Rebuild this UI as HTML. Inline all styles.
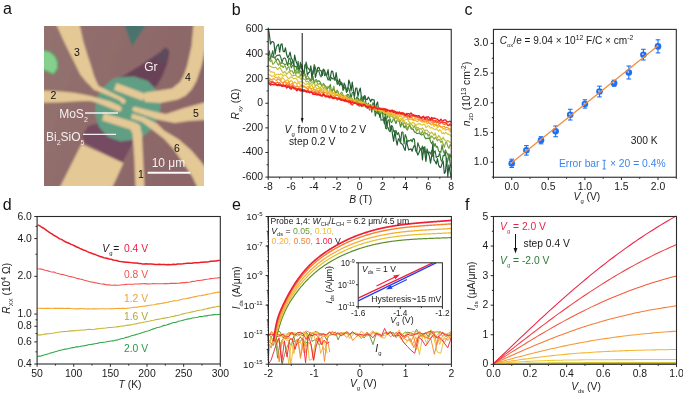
<!DOCTYPE html><html><head><meta charset="utf-8"><style>html,body{margin:0;padding:0;background:#fff;overflow:hidden}svg{display:block;font-family:"Liberation Sans", sans-serif;will-change:transform;}</style></head><body>
<svg width="683" height="397" viewBox="0 0 683 397">
<rect width="683" height="397" fill="#fff"/>
<text x="3.00" y="13.90" font-size="16" text-anchor="start" fill="#111" >a</text>
<text x="231.80" y="15.10" font-size="16" text-anchor="start" fill="#111" >b</text>
<text x="464.40" y="15.10" font-size="16" text-anchor="start" fill="#111" >c</text>
<text x="2.70" y="209.50" font-size="16" text-anchor="start" fill="#111" >d</text>
<text x="232.00" y="209.50" font-size="16" text-anchor="start" fill="#111" >e</text>
<text x="465.00" y="209.50" font-size="16" text-anchor="start" fill="#111" >f</text>
<g transform="translate(44,26)">
<defs><clipPath id="mc"><rect x="0" y="0" width="160" height="160"/></clipPath><linearGradient id="bgg" x1="0" y1="0" x2="1" y2="0.3"><stop offset="0" stop-color="#93726f"/><stop offset="1" stop-color="#8c6567"/></linearGradient><filter id="bl" x="-10%" y="-10%" width="120%" height="120%"><feGaussianBlur stdDeviation="1.0"/></filter></defs>
<g clip-path="url(#mc)">
<rect x="0" y="0" width="160" height="160" fill="#8f706d"/>
<g filter="url(#bl)">
<rect x="-5" y="-5" width="170" height="170" fill="url(#bgg)"/>
<polygon points="80,-2 102.5,-2 88,20.5" fill="#4b736e"/>
<path d="M-2,24 L6,25.7 L10.5,29.5 L13.6,35.5 L13.6,42.3 L9.8,48.4 L6,46.8 L-2,43 Z" fill="#84d08c" stroke="#5a9c6c" stroke-width="1.2"/>
<path d="M121,21.5 L124.5,23.5 L125.4,27 L123.3,37.3 L118.3,50.4 L112.3,60.5 L100,62 L80,53 L72,52.5 L80,49.4 L100,37 L117,25.5 Z" fill="#6b4358"/>
<path d="M121,21.5 L124.5,23.5 L125,28 L123,35 L116,37 L111,33 L117,25.5 Z" fill="#5f4a5c"/>
<path d="M44,100 L60,96 L80,100 L92,108 L88,118 L83,128 L78.5,136.5 L40,116.6 L38.5,110 Z" fill="#744c62"/>
<path d="M72,51.5 L90,50.5 L104,55 L113,65 L117,79 L115,89.4 L108,103 L99,110.6 L88,114 L76.5,115.5 L64,111 L55,101 L51.5,90 L51.5,80 L54.4,69 L60,61 L66,55 Z" fill="#619f83"/>
<path d="M12,-2 L35.5,-2 L39.2,15 L43.8,30 L47.1,40 L50.1,50 L53.1,57.1 L54.5,59.8 L66.2,65.7 L80,72.5 L82,75 L80.5,77.8 L78,77.8 L76,74.8 L66.2,70.2 L49.5,63.5 L46.5,60 L42.3,55.9 L36.2,48.4 L30.2,36.3 L21.1,18.1 Z" fill="#e4c896"/>
<path d="M-2,64.5 L15,65.2 L30,66.8 L40,68.6 L48,70.3 L56,72.5 L66,75.3 L76,79.8 L78,82.5 L76.5,85.5 L74,85.5 L61,80 L52,76.5 L46,75 L40,75 L30,75.5 L15,76.4 L-2,76.7 Z" fill="#e4c896"/>
<path d="M149.5,-2 L162,-2 L162,20 L157.5,40 L152.5,55 L148,63 L142,69.5 L134,73.5 L116.5,77 L101,76 L99,71 L101,66.5 L128,62.5 L136,56 L139.5,50 L143,40 L147.5,20 Z" fill="#e4c896"/>
<path d="M72.5,57.1 L101.2,67.7 L98.6,74.7 L69.9,64.1 Z" fill="#e4c896"/>
<path d="M90,80.5 L110,85.5 L122,88 L140,82 L162,76 L162,94 L145,95 L130.6,97 L113,93.5 L89,85.2 L88,83 Z" fill="#e4c896"/>
<path d="M88,87.5 L100,91 L113,97.5 L120,104.5 L135,113.6 L147.2,124.2 L156.2,134.7 L162,142 L162,162 L153.5,162 L148.7,151.3 L139.6,137.7 L129,122.6 L120,112.8 L108,103.5 L98,96 L87,92.5 Z" fill="#e4c896"/>
<path d="M60,87 L91,96.3 L96,99 L98,108 L99,130 L100.5,162 L91.5,162 L90.2,130 L88.5,108 L86.5,103.5 L58,94.5 Z" fill="#e4c896"/>
<path d="M37.5,118 L79.5,137 L68,162 L15.5,162 Z" fill="#e4c896"/>
</g>
</g>
</g>
<text x="74" y="56.3" font-size="10.5" fill="#111">3</text>
<text x="185" y="80.5" font-size="10.5" fill="#111">4</text>
<text x="50.6" y="99.1" font-size="10.5" fill="#111">2</text>
<text x="193" y="116.5" font-size="10.5" fill="#111">5</text>
<text x="174" y="151.5" font-size="10.5" fill="#111">6</text>
<text x="138" y="177.5" font-size="10.5" fill="#111">1</text>
<text x="144.2" y="71" font-size="12" fill="#f4f0f0">Gr</text>
<text x="59.2" y="118.1" font-size="12" fill="#f4f0f0">MoS<tspan font-size="7" dy="3.5">2</tspan></text>
<text x="46" y="140.6" font-size="12" fill="#f4f0f0">Bi<tspan font-size="7" dy="4">2</tspan><tspan dy="-4">SiO</tspan><tspan font-size="7" dy="4">5</tspan></text>
<line x1="85" y1="113" x2="118" y2="113" stroke="#f4f0f0" stroke-width="1.3"/>
<line x1="83" y1="134.4" x2="116" y2="134.4" stroke="#f4f0f0" stroke-width="1.3"/>
<text x="151.7" y="167.4" font-size="12" fill="#f4f0f0">10 μm</text>
<line x1="147.6" y1="172.8" x2="190.4" y2="172.8" stroke="#fafafa" stroke-width="2"/>
<g fill="none" stroke-linejoin="round">
<path d="M268.20,27.55 L269.35,34.32 L270.50,44.17 L271.65,41.71 L272.81,41.57 L273.96,42.92 L275.11,54.10 L276.26,47.30 L277.41,45.41 L278.56,44.27 L279.71,52.11 L280.86,44.48 L282.02,43.85 L283.17,51.34 L284.32,51.86 L285.47,47.74 L286.62,54.55 L287.77,57.76 L288.92,55.87 L290.07,52.11 L291.23,58.20 L292.38,59.86 L293.53,64.84 L294.68,55.13 L295.83,60.77 L296.98,63.75 L298.13,67.48 L299.28,69.99 L300.44,66.38 L301.59,64.74 L302.74,71.28 L303.89,73.82 L305.04,64.68 L306.19,65.11 L307.34,75.30 L308.49,72.72 L309.65,71.97 L310.80,65.84 L311.95,79.41 L313.10,70.86 L314.25,66.53 L315.40,77.55 L316.55,72.91 L317.70,67.75 L318.86,67.27 L320.01,70.48 L321.16,70.72 L322.31,75.54 L323.46,69.19 L324.61,70.50 L325.76,75.15 L326.91,75.15 L328.07,69.60 L329.22,79.65 L330.37,77.21 L331.52,71.09 L332.67,71.38 L333.82,76.91 L334.97,80.53 L336.12,72.49 L337.28,79.82 L338.43,83.30 L339.58,79.12 L340.73,84.70 L341.88,83.17 L343.03,89.15 L344.18,83.15 L345.33,85.64 L346.49,92.52 L347.64,90.77 L348.79,79.99 L349.94,83.36 L351.09,90.95 L352.24,82.04 L353.39,90.56 L354.54,96.31 L355.70,88.04 L356.85,88.05 L358.00,96.47 L359.15,91.23 L360.30,88.01 L361.45,97.76 L362.60,102.96 L363.75,96.36 L364.91,95.59 L366.06,99.45 L367.21,99.58 L368.36,96.98 L369.51,99.09 L370.66,101.83 L371.81,99.34 L372.96,99.63 L374.12,99.86 L375.27,111.92 L376.42,104.43 L377.57,101.94 L378.72,111.33 L379.87,117.45 L381.02,109.88 L382.17,110.22 L383.33,118.90 L384.48,123.87 L385.63,113.66 L386.78,126.37 L387.93,127.35 L389.08,130.59 L390.23,131.76 L391.38,125.62 L392.54,134.80 L393.69,141.31 L394.84,130.58 L395.99,138.99 L397.14,145.24 L398.29,138.74 L399.44,140.03 L400.59,142.89 L401.75,143.79 L402.90,144.97 L404.05,148.14 L405.20,150.39 L406.35,140.64 L407.50,145.27 L408.65,149.91 L409.80,149.35 L410.96,148.86 L412.11,151.26 L413.26,147.68 L414.41,145.35 L415.56,147.50 L416.71,151.65 L417.86,155.04 L419.01,152.49 L420.17,149.48 L421.32,148.05 L422.47,160.00 L423.62,147.22 L424.77,152.39 L425.92,161.52 L427.07,151.65 L428.22,152.73 L429.38,156.21 L430.53,163.11 L431.68,155.94 L432.83,143.84 L433.98,160.18 L435.13,161.38 L436.28,164.02 L437.43,158.70 L438.59,165.15 L439.74,167.16 L440.89,167.32 L442.04,163.62 L443.19,161.05 L444.34,173.41 L445.49,171.64 L446.64,157.88 L447.80,176.56 L448.95,164.79 L450.10,172.18 L451.25,177.10" stroke="#1f5a30" stroke-width="1.15"/>
<path d="M268.20,56.12 L269.35,50.83 L270.50,59.18 L271.65,54.85 L272.81,50.68 L273.96,57.64 L275.11,57.49 L276.26,56.03 L277.41,55.35 L278.56,55.31 L279.71,54.75 L280.86,57.66 L282.02,62.37 L283.17,58.65 L284.32,57.88 L285.47,58.58 L286.62,62.09 L287.77,65.45 L288.92,58.31 L290.07,58.52 L291.23,64.87 L292.38,60.99 L293.53,62.25 L294.68,66.96 L295.83,66.36 L296.98,67.83 L298.13,61.43 L299.28,71.67 L300.44,62.32 L301.59,68.41 L302.74,69.80 L303.89,73.73 L305.04,66.72 L306.19,62.02 L307.34,67.49 L308.49,68.61 L309.65,70.16 L310.80,67.78 L311.95,71.36 L313.10,74.05 L314.25,64.60 L315.40,67.59 L316.55,72.77 L317.70,70.38 L318.86,70.87 L320.01,75.21 L321.16,76.86 L322.31,70.40 L323.46,70.00 L324.61,75.76 L325.76,72.71 L326.91,76.57 L328.07,80.03 L329.22,79.14 L330.37,80.52 L331.52,77.41 L332.67,78.88 L333.82,78.91 L334.97,77.34 L336.12,79.36 L337.28,84.45 L338.43,81.97 L339.58,85.62 L340.73,81.75 L341.88,83.10 L343.03,90.45 L344.18,88.47 L345.33,86.01 L346.49,90.67 L347.64,87.86 L348.79,88.15 L349.94,92.65 L351.09,98.70 L352.24,92.69 L353.39,91.91 L354.54,98.63 L355.70,100.86 L356.85,97.18 L358.00,97.91 L359.15,100.56 L360.30,102.11 L361.45,95.75 L362.60,98.25 L363.75,99.91 L364.91,96.52 L366.06,104.04 L367.21,108.29 L368.36,103.02 L369.51,106.85 L370.66,106.96 L371.81,112.12 L372.96,102.74 L374.12,104.84 L375.27,116.03 L376.42,112.22 L377.57,111.40 L378.72,114.13 L379.87,110.37 L381.02,120.22 L382.17,119.71 L383.33,120.13 L384.48,117.21 L385.63,128.53 L386.78,128.82 L387.93,120.22 L389.08,119.69 L390.23,130.29 L391.38,125.57 L392.54,126.27 L393.69,131.49 L394.84,132.81 L395.99,130.41 L397.14,134.78 L398.29,132.48 L399.44,135.80 L400.59,142.82 L401.75,132.01 L402.90,132.01 L404.05,143.92 L405.20,134.50 L406.35,137.24 L407.50,142.12 L408.65,140.44 L409.80,141.00 L410.96,139.58 L412.11,141.81 L413.26,138.48 L414.41,139.32 L415.56,150.59 L416.71,152.02 L417.86,142.70 L419.01,146.10 L420.17,149.22 L421.32,150.36 L422.47,145.98 L423.62,152.80 L424.77,146.65 L425.92,155.04 L427.07,148.83 L428.22,152.50 L429.38,152.03 L430.53,153.97 L431.68,150.57 L432.83,156.52 L433.98,152.37 L435.13,150.82 L436.28,157.63 L437.43,156.48 L438.59,156.39 L439.74,152.58 L440.89,159.80 L442.04,161.73 L443.19,155.31 L444.34,155.73 L445.49,152.52 L446.64,163.36 L447.80,160.72 L448.95,153.76 L450.10,163.39 L451.25,168.28" stroke="#2f6e35" stroke-width="1.15"/>
<path d="M268.20,57.42 L269.35,59.43 L270.50,57.20 L271.65,54.86 L272.81,57.49 L273.96,57.41 L275.11,58.35 L276.26,60.69 L277.41,58.69 L278.56,59.78 L279.71,62.15 L280.86,63.54 L282.02,62.85 L283.17,63.40 L284.32,64.29 L285.47,64.67 L286.62,63.51 L287.77,63.47 L288.92,63.80 L290.07,63.44 L291.23,67.89 L292.38,65.63 L293.53,65.29 L294.68,71.11 L295.83,70.91 L296.98,67.11 L298.13,70.40 L299.28,72.18 L300.44,70.79 L301.59,72.01 L302.74,77.01 L303.89,74.60 L305.04,73.92 L306.19,79.33 L307.34,78.70 L308.49,78.96 L309.65,78.39 L310.80,80.59 L311.95,80.13 L313.10,76.56 L314.25,83.99 L315.40,80.14 L316.55,79.70 L317.70,81.49 L318.86,80.73 L320.01,81.82 L321.16,84.30 L322.31,86.67 L323.46,83.52 L324.61,85.33 L325.76,86.24 L326.91,89.35 L328.07,87.87 L329.22,87.23 L330.37,84.49 L331.52,92.69 L332.67,90.33 L333.82,88.79 L334.97,91.97 L336.12,92.95 L337.28,90.11 L338.43,93.11 L339.58,97.33 L340.73,93.93 L341.88,95.10 L343.03,96.48 L344.18,97.46 L345.33,95.99 L346.49,98.54 L347.64,94.24 L348.79,94.98 L349.94,99.23 L351.09,97.51 L352.24,99.52 L353.39,101.78 L354.54,102.83 L355.70,99.70 L356.85,97.47 L358.00,98.75 L359.15,106.41 L360.30,98.50 L361.45,98.88 L362.60,101.02 L363.75,105.47 L364.91,101.90 L366.06,103.66 L367.21,104.66 L368.36,106.07 L369.51,110.13 L370.66,104.52 L371.81,106.15 L372.96,107.87 L374.12,109.84 L375.27,109.57 L376.42,106.32 L377.57,113.57 L378.72,110.34 L379.87,112.39 L381.02,110.57 L382.17,114.11 L383.33,113.69 L384.48,113.46 L385.63,116.50 L386.78,118.93 L387.93,115.54 L389.08,113.79 L390.23,119.74 L391.38,122.76 L392.54,121.27 L393.69,117.92 L394.84,120.67 L395.99,123.67 L397.14,120.05 L398.29,118.86 L399.44,121.95 L400.59,127.03 L401.75,123.00 L402.90,123.60 L404.05,127.76 L405.20,125.73 L406.35,128.84 L407.50,129.99 L408.65,126.21 L409.80,126.14 L410.96,128.44 L412.11,129.43 L413.26,129.24 L414.41,132.09 L415.56,132.16 L416.71,133.51 L417.86,133.61 L419.01,132.87 L420.17,134.01 L421.32,134.90 L422.47,134.80 L423.62,134.08 L424.77,137.32 L425.92,138.92 L427.07,138.02 L428.22,138.67 L429.38,137.71 L430.53,141.47 L431.68,143.72 L432.83,140.86 L433.98,146.53 L435.13,143.53 L436.28,147.27 L437.43,146.33 L438.59,151.15 L439.74,151.45 L440.89,152.31 L442.04,144.93 L443.19,150.73 L444.34,153.46 L445.49,149.91 L446.64,152.62 L447.80,154.39 L448.95,158.74 L450.10,154.37 L451.25,157.98" stroke="#4d8a35" stroke-width="1.15"/>
<path d="M268.20,61.01 L269.35,59.94 L270.50,61.54 L271.65,59.97 L272.81,64.38 L273.96,63.33 L275.11,61.44 L276.26,61.54 L277.41,63.57 L278.56,65.26 L279.71,62.39 L280.86,66.43 L282.02,65.88 L283.17,67.62 L284.32,65.85 L285.47,66.35 L286.62,70.05 L287.77,67.41 L288.92,66.58 L290.07,71.57 L291.23,70.77 L292.38,71.05 L293.53,73.87 L294.68,71.00 L295.83,74.42 L296.98,70.99 L298.13,73.41 L299.28,70.46 L300.44,76.17 L301.59,73.82 L302.74,75.89 L303.89,74.27 L305.04,75.86 L306.19,77.41 L307.34,75.47 L308.49,77.19 L309.65,80.86 L310.80,82.00 L311.95,82.14 L313.10,81.97 L314.25,81.63 L315.40,80.09 L316.55,81.57 L317.70,83.88 L318.86,84.33 L320.01,83.26 L321.16,85.17 L322.31,86.70 L323.46,83.20 L324.61,86.29 L325.76,87.06 L326.91,88.37 L328.07,86.36 L329.22,87.79 L330.37,90.52 L331.52,89.91 L332.67,89.34 L333.82,86.13 L334.97,91.87 L336.12,91.57 L337.28,90.50 L338.43,93.55 L339.58,96.77 L340.73,92.98 L341.88,92.09 L343.03,95.15 L344.18,96.25 L345.33,97.76 L346.49,94.96 L347.64,96.67 L348.79,98.33 L349.94,97.14 L351.09,98.41 L352.24,98.81 L353.39,101.67 L354.54,99.61 L355.70,99.20 L356.85,101.73 L358.00,105.49 L359.15,102.03 L360.30,104.08 L361.45,106.51 L362.60,104.99 L363.75,103.01 L364.91,105.99 L366.06,107.46 L367.21,104.25 L368.36,104.88 L369.51,105.83 L370.66,106.84 L371.81,107.71 L372.96,108.76 L374.12,108.02 L375.27,107.45 L376.42,111.22 L377.57,108.64 L378.72,108.57 L379.87,113.43 L381.02,112.25 L382.17,109.90 L383.33,111.57 L384.48,112.71 L385.63,113.54 L386.78,112.58 L387.93,113.52 L389.08,117.28 L390.23,115.27 L391.38,113.55 L392.54,115.97 L393.69,118.75 L394.84,118.04 L395.99,115.93 L397.14,118.49 L398.29,121.16 L399.44,119.64 L400.59,121.62 L401.75,122.75 L402.90,124.76 L404.05,122.82 L405.20,122.84 L406.35,125.77 L407.50,128.99 L408.65,126.84 L409.80,124.52 L410.96,127.44 L412.11,129.13 L413.26,127.67 L414.41,126.17 L415.56,128.29 L416.71,131.26 L417.86,128.88 L419.01,129.56 L420.17,133.35 L421.32,133.58 L422.47,130.89 L423.62,134.31 L424.77,132.04 L425.92,134.10 L427.07,133.18 L428.22,136.28 L429.38,134.03 L430.53,138.15 L431.68,135.92 L432.83,137.28 L433.98,139.22 L435.13,137.40 L436.28,138.60 L437.43,140.93 L438.59,139.45 L439.74,140.12 L440.89,142.60 L442.04,140.67 L443.19,144.11 L444.34,147.43 L445.49,142.82 L446.64,142.10 L447.80,146.36 L448.95,148.40 L450.10,144.61 L451.25,145.73" stroke="#86a83a" stroke-width="1.15"/>
<path d="M268.20,64.95 L269.35,66.05 L270.50,66.33 L271.65,67.00 L272.81,67.49 L273.96,67.69 L275.11,67.30 L276.26,67.78 L277.41,69.39 L278.56,68.69 L279.71,67.29 L280.86,69.26 L282.02,71.21 L283.17,73.00 L284.32,71.66 L285.47,72.09 L286.62,74.29 L287.77,73.10 L288.92,71.52 L290.07,73.03 L291.23,74.77 L292.38,75.94 L293.53,75.68 L294.68,75.43 L295.83,75.32 L296.98,76.65 L298.13,77.59 L299.28,76.14 L300.44,78.76 L301.59,79.11 L302.74,77.11 L303.89,79.42 L305.04,79.19 L306.19,82.02 L307.34,81.13 L308.49,81.80 L309.65,84.15 L310.80,83.70 L311.95,84.21 L313.10,83.66 L314.25,83.20 L315.40,86.31 L316.55,84.55 L317.70,85.67 L318.86,86.97 L320.01,88.70 L321.16,86.57 L322.31,85.61 L323.46,88.92 L324.61,87.24 L325.76,88.97 L326.91,89.82 L328.07,91.98 L329.22,90.81 L330.37,90.36 L331.52,91.43 L332.67,93.90 L333.82,92.51 L334.97,92.92 L336.12,95.02 L337.28,94.88 L338.43,95.91 L339.58,95.94 L340.73,96.06 L341.88,96.08 L343.03,97.95 L344.18,97.31 L345.33,95.92 L346.49,97.67 L347.64,98.45 L348.79,100.19 L349.94,99.30 L351.09,97.74 L352.24,98.24 L353.39,100.53 L354.54,100.61 L355.70,99.76 L356.85,100.06 L358.00,100.99 L359.15,102.19 L360.30,100.87 L361.45,102.15 L362.60,104.41 L363.75,104.40 L364.91,102.63 L366.06,104.72 L367.21,106.09 L368.36,105.91 L369.51,105.18 L370.66,107.61 L371.81,107.53 L372.96,109.00 L374.12,107.40 L375.27,110.52 L376.42,110.20 L377.57,108.47 L378.72,109.48 L379.87,111.81 L381.02,111.48 L382.17,111.79 L383.33,111.98 L384.48,112.40 L385.63,112.07 L386.78,114.36 L387.93,113.67 L389.08,115.74 L390.23,115.87 L391.38,116.59 L392.54,115.82 L393.69,118.94 L394.84,116.78 L395.99,118.73 L397.14,117.20 L398.29,118.66 L399.44,120.31 L400.59,121.25 L401.75,118.61 L402.90,119.08 L404.05,123.50 L405.20,123.56 L406.35,122.64 L407.50,124.39 L408.65,124.37 L409.80,122.95 L410.96,123.86 L412.11,124.95 L413.26,126.79 L414.41,125.81 L415.56,124.97 L416.71,128.31 L417.86,127.32 L419.01,128.25 L420.17,128.46 L421.32,129.67 L422.47,127.80 L423.62,129.34 L424.77,131.30 L425.92,129.97 L427.07,130.00 L428.22,131.61 L429.38,132.70 L430.53,133.38 L431.68,132.13 L432.83,133.50 L433.98,135.38 L435.13,132.90 L436.28,136.93 L437.43,138.22 L438.59,135.43 L439.74,136.56 L440.89,139.63 L442.04,139.11 L443.19,137.18 L444.34,139.75 L445.49,140.62 L446.64,141.70 L447.80,140.47 L448.95,141.34 L450.10,142.50 L451.25,143.01" stroke="#b9bd35" stroke-width="1.15"/>
<path d="M268.20,69.71 L269.35,69.72 L270.50,72.09 L271.65,71.71 L272.81,72.25 L273.96,72.27 L275.11,75.41 L276.26,74.44 L277.41,74.00 L278.56,74.40 L279.71,74.77 L280.86,73.74 L282.02,74.27 L283.17,76.49 L284.32,74.74 L285.47,75.33 L286.62,76.29 L287.77,77.90 L288.92,78.98 L290.07,77.36 L291.23,77.00 L292.38,77.68 L293.53,78.80 L294.68,78.37 L295.83,78.24 L296.98,79.60 L298.13,81.75 L299.28,81.87 L300.44,82.12 L301.59,81.31 L302.74,82.16 L303.89,82.97 L305.04,84.00 L306.19,84.62 L307.34,83.36 L308.49,83.64 L309.65,87.28 L310.80,85.77 L311.95,85.11 L313.10,88.21 L314.25,87.20 L315.40,86.34 L316.55,88.47 L317.70,88.60 L318.86,88.23 L320.01,89.35 L321.16,88.42 L322.31,89.31 L323.46,91.11 L324.61,89.69 L325.76,89.83 L326.91,91.41 L328.07,91.90 L329.22,91.25 L330.37,92.56 L331.52,92.37 L332.67,93.66 L333.82,92.60 L334.97,94.71 L336.12,95.19 L337.28,94.09 L338.43,94.47 L339.58,95.71 L340.73,94.72 L341.88,96.04 L343.03,97.42 L344.18,97.80 L345.33,96.21 L346.49,98.06 L347.64,99.69 L348.79,99.35 L349.94,98.90 L351.09,99.27 L352.24,100.57 L353.39,101.83 L354.54,100.68 L355.70,100.60 L356.85,102.16 L358.00,101.91 L359.15,101.05 L360.30,102.97 L361.45,103.31 L362.60,102.37 L363.75,102.84 L364.91,105.17 L366.06,106.85 L367.21,104.69 L368.36,105.90 L369.51,105.11 L370.66,108.68 L371.81,105.22 L372.96,106.89 L374.12,107.93 L375.27,108.97 L376.42,107.98 L377.57,108.57 L378.72,110.35 L379.87,109.44 L381.02,109.76 L382.17,110.67 L383.33,112.17 L384.48,113.01 L385.63,111.71 L386.78,111.03 L387.93,114.37 L389.08,115.91 L390.23,113.61 L391.38,112.72 L392.54,115.22 L393.69,115.62 L394.84,115.05 L395.99,116.39 L397.14,117.50 L398.29,120.46 L399.44,119.28 L400.59,118.39 L401.75,119.49 L402.90,121.64 L404.05,121.82 L405.20,119.71 L406.35,119.21 L407.50,119.27 L408.65,121.09 L409.80,122.81 L410.96,123.57 L412.11,122.88 L413.26,122.38 L414.41,123.33 L415.56,124.53 L416.71,124.81 L417.86,123.82 L419.01,123.61 L420.17,123.86 L421.32,124.92 L422.47,125.01 L423.62,124.17 L424.77,124.51 L425.92,127.56 L427.07,126.96 L428.22,125.60 L429.38,126.36 L430.53,128.23 L431.68,127.52 L432.83,128.21 L433.98,129.26 L435.13,129.64 L436.28,128.69 L437.43,130.18 L438.59,131.21 L439.74,129.63 L440.89,130.72 L442.04,133.66 L443.19,132.64 L444.34,133.94 L445.49,132.46 L446.64,133.22 L447.80,134.36 L448.95,134.14 L450.10,135.18 L451.25,136.09" stroke="#e0c62e" stroke-width="1.15"/>
<path d="M268.20,74.81 L269.35,74.64 L270.50,75.37 L271.65,76.39 L272.81,75.99 L273.96,75.81 L275.11,77.46 L276.26,77.09 L277.41,78.32 L278.56,76.94 L279.71,77.56 L280.86,80.44 L282.02,77.33 L283.17,78.34 L284.32,79.38 L285.47,81.85 L286.62,79.98 L287.77,79.86 L288.92,81.59 L290.07,81.70 L291.23,80.28 L292.38,81.56 L293.53,83.65 L294.68,81.82 L295.83,82.74 L296.98,84.49 L298.13,82.45 L299.28,83.70 L300.44,84.92 L301.59,85.77 L302.74,85.37 L303.89,85.56 L305.04,86.76 L306.19,87.99 L307.34,86.67 L308.49,86.92 L309.65,87.81 L310.80,88.68 L311.95,88.49 L313.10,88.35 L314.25,89.71 L315.40,90.05 L316.55,89.50 L317.70,90.17 L318.86,91.98 L320.01,89.86 L321.16,89.16 L322.31,93.40 L323.46,90.79 L324.61,92.39 L325.76,92.00 L326.91,92.14 L328.07,91.82 L329.22,92.83 L330.37,94.00 L331.52,95.12 L332.67,92.77 L333.82,93.92 L334.97,94.99 L336.12,95.10 L337.28,94.66 L338.43,94.94 L339.58,94.91 L340.73,97.65 L341.88,95.97 L343.03,98.05 L344.18,96.14 L345.33,98.86 L346.49,97.76 L347.64,98.47 L348.79,99.51 L349.94,100.08 L351.09,99.69 L352.24,100.28 L353.39,100.55 L354.54,102.02 L355.70,100.29 L356.85,101.82 L358.00,103.37 L359.15,103.21 L360.30,102.15 L361.45,103.58 L362.60,104.72 L363.75,103.94 L364.91,104.77 L366.06,105.05 L367.21,105.20 L368.36,107.42 L369.51,108.05 L370.66,107.01 L371.81,107.05 L372.96,107.70 L374.12,106.81 L375.27,107.87 L376.42,110.12 L377.57,108.76 L378.72,107.98 L379.87,110.65 L381.02,110.28 L382.17,110.33 L383.33,110.01 L384.48,111.14 L385.63,113.18 L386.78,110.67 L387.93,112.19 L389.08,113.30 L390.23,114.03 L391.38,112.52 L392.54,112.85 L393.69,114.55 L394.84,114.39 L395.99,115.33 L397.14,114.80 L398.29,118.02 L399.44,116.42 L400.59,116.01 L401.75,116.83 L402.90,118.26 L404.05,117.85 L405.20,116.76 L406.35,116.12 L407.50,117.78 L408.65,119.78 L409.80,118.78 L410.96,119.52 L412.11,119.67 L413.26,120.28 L414.41,120.33 L415.56,120.08 L416.71,121.49 L417.86,121.61 L419.01,119.58 L420.17,118.94 L421.32,121.99 L422.47,121.92 L423.62,121.59 L424.77,122.48 L425.92,121.59 L427.07,124.13 L428.22,122.62 L429.38,123.49 L430.53,124.24 L431.68,125.03 L432.83,123.76 L433.98,126.41 L435.13,125.75 L436.28,124.44 L437.43,127.75 L438.59,126.82 L439.74,125.42 L440.89,127.15 L442.04,127.84 L443.19,129.13 L444.34,128.60 L445.49,130.19 L446.64,129.48 L447.80,129.24 L448.95,129.97 L450.10,131.62 L451.25,130.79" stroke="#f5b82c" stroke-width="1.15"/>
<path d="M268.20,77.76 L269.35,78.01 L270.50,79.23 L271.65,79.80 L272.81,79.05 L273.96,78.62 L275.11,79.65 L276.26,80.48 L277.41,79.66 L278.56,78.96 L279.71,80.17 L280.86,81.24 L282.02,82.42 L283.17,82.53 L284.32,81.40 L285.47,83.10 L286.62,82.53 L287.77,83.50 L288.92,81.73 L290.07,85.19 L291.23,84.45 L292.38,83.01 L293.53,85.15 L294.68,85.98 L295.83,86.89 L296.98,85.70 L298.13,87.02 L299.28,86.48 L300.44,86.30 L301.59,86.24 L302.74,86.28 L303.89,87.21 L305.04,87.14 L306.19,88.10 L307.34,88.98 L308.49,88.16 L309.65,87.38 L310.80,88.68 L311.95,90.40 L313.10,90.46 L314.25,89.09 L315.40,90.52 L316.55,90.95 L317.70,91.81 L318.86,90.88 L320.01,90.54 L321.16,92.28 L322.31,93.06 L323.46,91.90 L324.61,92.50 L325.76,92.50 L326.91,93.93 L328.07,92.81 L329.22,94.24 L330.37,94.50 L331.52,95.21 L332.67,96.16 L333.82,95.37 L334.97,97.02 L336.12,95.39 L337.28,95.55 L338.43,96.08 L339.58,97.28 L340.73,98.68 L341.88,98.76 L343.03,97.21 L344.18,98.96 L345.33,98.92 L346.49,98.93 L347.64,99.19 L348.79,100.73 L349.94,101.44 L351.09,100.40 L352.24,100.58 L353.39,101.17 L354.54,103.16 L355.70,101.85 L356.85,103.05 L358.00,104.79 L359.15,104.24 L360.30,103.79 L361.45,106.41 L362.60,105.06 L363.75,104.60 L364.91,104.67 L366.06,106.18 L367.21,104.94 L368.36,104.17 L369.51,106.64 L370.66,105.52 L371.81,106.84 L372.96,107.53 L374.12,107.53 L375.27,106.86 L376.42,108.64 L377.57,108.91 L378.72,107.54 L379.87,107.84 L381.02,109.13 L382.17,109.63 L383.33,108.34 L384.48,111.41 L385.63,109.85 L386.78,109.93 L387.93,110.08 L389.08,110.35 L390.23,112.37 L391.38,111.52 L392.54,111.72 L393.69,111.44 L394.84,113.05 L395.99,113.71 L397.14,112.15 L398.29,114.41 L399.44,115.35 L400.59,114.52 L401.75,114.88 L402.90,114.28 L404.05,116.75 L405.20,117.19 L406.35,116.19 L407.50,118.17 L408.65,117.92 L409.80,117.60 L410.96,117.60 L412.11,117.81 L413.26,120.16 L414.41,118.74 L415.56,118.68 L416.71,119.03 L417.86,119.39 L419.01,119.61 L420.17,120.69 L421.32,121.07 L422.47,120.64 L423.62,121.57 L424.77,121.09 L425.92,121.11 L427.07,121.49 L428.22,121.68 L429.38,123.24 L430.53,123.69 L431.68,122.00 L432.83,123.08 L433.98,124.34 L435.13,124.44 L436.28,124.84 L437.43,125.74 L438.59,124.31 L439.74,126.29 L440.89,126.55 L442.04,127.21 L443.19,126.47 L444.34,126.44 L445.49,128.06 L446.64,127.31 L447.80,127.74 L448.95,128.82 L450.10,128.72 L451.25,130.12" stroke="#f59a2c" stroke-width="1.15"/>
<path d="M268.20,81.56 L269.35,79.87 L270.50,82.08 L271.65,81.36 L272.81,81.04 L273.96,83.33 L275.11,83.46 L276.26,83.17 L277.41,82.10 L278.56,83.07 L279.71,82.74 L280.86,84.25 L282.02,84.91 L283.17,83.40 L284.32,86.10 L285.47,84.98 L286.62,84.16 L287.77,86.24 L288.92,84.41 L290.07,86.97 L291.23,86.93 L292.38,85.19 L293.53,87.13 L294.68,87.65 L295.83,88.55 L296.98,88.66 L298.13,88.67 L299.28,88.06 L300.44,88.37 L301.59,89.75 L302.74,90.07 L303.89,89.55 L305.04,90.12 L306.19,90.99 L307.34,90.87 L308.49,89.80 L309.65,92.78 L310.80,90.99 L311.95,91.78 L313.10,92.13 L314.25,92.95 L315.40,91.67 L316.55,92.41 L317.70,94.62 L318.86,91.95 L320.01,93.23 L321.16,95.24 L322.31,96.00 L323.46,92.75 L324.61,94.81 L325.76,95.66 L326.91,94.75 L328.07,95.23 L329.22,96.87 L330.37,96.11 L331.52,96.95 L332.67,97.02 L333.82,97.16 L334.97,97.80 L336.12,98.16 L337.28,99.14 L338.43,98.26 L339.58,98.70 L340.73,98.40 L341.88,98.68 L343.03,99.91 L344.18,99.75 L345.33,99.44 L346.49,101.41 L347.64,101.17 L348.79,102.95 L349.94,101.85 L351.09,100.93 L352.24,101.16 L353.39,101.61 L354.54,102.43 L355.70,102.91 L356.85,101.47 L358.00,103.18 L359.15,104.52 L360.30,103.53 L361.45,104.36 L362.60,104.14 L363.75,104.27 L364.91,104.22 L366.06,106.42 L367.21,105.39 L368.36,105.58 L369.51,106.62 L370.66,106.23 L371.81,106.46 L372.96,106.98 L374.12,107.65 L375.27,108.88 L376.42,107.14 L377.57,107.14 L378.72,108.27 L379.87,109.58 L381.02,108.67 L382.17,108.13 L383.33,110.02 L384.48,109.10 L385.63,108.59 L386.78,111.52 L387.93,110.69 L389.08,110.17 L390.23,110.25 L391.38,111.05 L392.54,111.57 L393.69,111.42 L394.84,112.06 L395.99,113.55 L397.14,112.05 L398.29,114.37 L399.44,113.22 L400.59,113.98 L401.75,113.41 L402.90,114.86 L404.05,114.60 L405.20,114.25 L406.35,115.45 L407.50,116.95 L408.65,115.49 L409.80,115.71 L410.96,117.36 L412.11,116.54 L413.26,115.32 L414.41,116.92 L415.56,116.88 L416.71,117.05 L417.86,117.57 L419.01,118.34 L420.17,117.53 L421.32,118.18 L422.47,120.28 L423.62,119.65 L424.77,119.82 L425.92,119.28 L427.07,120.46 L428.22,119.72 L429.38,120.68 L430.53,121.06 L431.68,120.24 L432.83,121.24 L433.98,122.53 L435.13,121.38 L436.28,122.92 L437.43,121.88 L438.59,123.07 L439.74,123.73 L440.89,122.97 L442.04,122.15 L443.19,124.25 L444.34,124.28 L445.49,124.12 L446.64,122.92 L447.80,125.41 L448.95,124.45 L450.10,123.93 L451.25,126.30" stroke="#f5702c" stroke-width="1.25"/>
<path d="M268.20,81.43 L269.35,82.95 L270.50,84.49 L271.65,82.07 L272.81,82.60 L273.96,82.91 L275.11,83.00 L276.26,84.51 L277.41,84.54 L278.56,85.48 L279.71,85.49 L280.86,85.52 L282.02,86.17 L283.17,85.27 L284.32,85.86 L285.47,85.62 L286.62,86.02 L287.77,85.93 L288.92,86.09 L290.07,87.54 L291.23,86.60 L292.38,87.05 L293.53,88.76 L294.68,88.71 L295.83,87.87 L296.98,89.40 L298.13,89.68 L299.28,89.29 L300.44,89.15 L301.59,90.64 L302.74,90.51 L303.89,89.59 L305.04,91.06 L306.19,91.50 L307.34,90.39 L308.49,91.19 L309.65,92.72 L310.80,92.16 L311.95,92.30 L313.10,93.75 L314.25,91.98 L315.40,93.30 L316.55,93.84 L317.70,94.19 L318.86,94.19 L320.01,95.68 L321.16,95.32 L322.31,96.05 L323.46,95.15 L324.61,95.92 L325.76,96.89 L326.91,96.86 L328.07,95.97 L329.22,98.05 L330.37,97.26 L331.52,97.57 L332.67,98.15 L333.82,98.68 L334.97,98.31 L336.12,97.84 L337.28,99.87 L338.43,99.22 L339.58,99.34 L340.73,100.26 L341.88,100.47 L343.03,99.80 L344.18,100.26 L345.33,101.51 L346.49,101.72 L347.64,101.67 L348.79,102.13 L349.94,102.17 L351.09,104.48 L352.24,104.97 L353.39,103.62 L354.54,103.13 L355.70,102.91 L356.85,104.17 L358.00,104.66 L359.15,104.84 L360.30,104.34 L361.45,104.58 L362.60,106.01 L363.75,105.97 L364.91,105.43 L366.06,106.48 L367.21,107.83 L368.36,108.00 L369.51,106.20 L370.66,107.67 L371.81,108.63 L372.96,107.95 L374.12,107.73 L375.27,107.49 L376.42,107.90 L377.57,108.92 L378.72,109.09 L379.87,109.20 L381.02,108.63 L382.17,109.50 L383.33,109.76 L384.48,108.71 L385.63,111.51 L386.78,111.21 L387.93,110.60 L389.08,110.30 L390.23,111.93 L391.38,110.43 L392.54,111.72 L393.69,110.81 L394.84,111.48 L395.99,113.79 L397.14,112.15 L398.29,112.28 L399.44,112.85 L400.59,112.92 L401.75,112.50 L402.90,113.60 L404.05,114.15 L405.20,115.64 L406.35,113.26 L407.50,115.10 L408.65,115.85 L409.80,117.05 L410.96,115.36 L412.11,115.04 L413.26,115.22 L414.41,116.45 L415.56,116.16 L416.71,116.47 L417.86,117.09 L419.01,116.94 L420.17,117.85 L421.32,118.70 L422.47,117.93 L423.62,117.18 L424.77,117.92 L425.92,118.02 L427.07,118.12 L428.22,119.69 L429.38,119.74 L430.53,120.14 L431.68,118.30 L432.83,120.21 L433.98,120.47 L435.13,120.98 L436.28,120.65 L437.43,121.94 L438.59,121.84 L439.74,121.82 L440.89,122.48 L442.04,121.75 L443.19,122.51 L444.34,122.40 L445.49,122.53 L446.64,123.84 L447.80,125.42 L448.95,125.75 L450.10,124.05 L451.25,124.58" stroke="#f2402a" stroke-width="1.3"/>
<path d="M268.20,83.15 L269.35,83.63 L270.50,85.10 L271.65,84.38 L272.81,84.55 L273.96,84.91 L275.11,84.34 L276.26,84.97 L277.41,85.63 L278.56,84.12 L279.71,84.97 L280.86,85.21 L282.02,86.29 L283.17,85.87 L284.32,86.28 L285.47,85.66 L286.62,88.08 L287.77,87.21 L288.92,86.89 L290.07,88.62 L291.23,89.18 L292.38,87.25 L293.53,87.46 L294.68,88.40 L295.83,89.49 L296.98,90.81 L298.13,88.83 L299.28,90.02 L300.44,91.02 L301.59,90.38 L302.74,90.59 L303.89,91.61 L305.04,90.60 L306.19,92.00 L307.34,92.03 L308.49,92.02 L309.65,92.50 L310.80,92.18 L311.95,92.58 L313.10,94.41 L314.25,94.44 L315.40,94.12 L316.55,94.98 L317.70,94.52 L318.86,94.96 L320.01,94.48 L321.16,95.88 L322.31,95.52 L323.46,94.05 L324.61,95.44 L325.76,96.04 L326.91,96.48 L328.07,96.40 L329.22,97.16 L330.37,95.80 L331.52,96.56 L332.67,98.51 L333.82,97.54 L334.97,97.84 L336.12,97.84 L337.28,98.33 L338.43,98.01 L339.58,98.58 L340.73,99.29 L341.88,100.02 L343.03,99.83 L344.18,101.10 L345.33,99.66 L346.49,100.71 L347.64,101.24 L348.79,101.00 L349.94,100.81 L351.09,103.37 L352.24,101.99 L353.39,103.12 L354.54,102.99 L355.70,103.57 L356.85,103.87 L358.00,104.89 L359.15,103.75 L360.30,104.78 L361.45,106.03 L362.60,105.40 L363.75,104.37 L364.91,104.98 L366.06,106.59 L367.21,106.55 L368.36,107.23 L369.51,106.33 L370.66,106.05 L371.81,107.62 L372.96,108.14 L374.12,106.58 L375.27,107.56 L376.42,108.29 L377.57,108.90 L378.72,108.12 L379.87,108.37 L381.02,109.24 L382.17,109.40 L383.33,108.82 L384.48,109.16 L385.63,110.10 L386.78,109.29 L387.93,110.39 L389.08,110.63 L390.23,111.40 L391.38,110.40 L392.54,110.10 L393.69,112.61 L394.84,111.29 L395.99,112.09 L397.14,113.05 L398.29,112.95 L399.44,111.97 L400.59,113.59 L401.75,113.78 L402.90,112.76 L404.05,113.37 L405.20,115.22 L406.35,114.75 L407.50,113.63 L408.65,113.65 L409.80,114.44 L410.96,112.90 L412.11,114.24 L413.26,115.04 L414.41,115.18 L415.56,115.68 L416.71,115.68 L417.86,115.95 L419.01,115.67 L420.17,117.04 L421.32,117.50 L422.47,116.88 L423.62,116.27 L424.77,119.00 L425.92,116.97 L427.07,117.26 L428.22,116.65 L429.38,117.96 L430.53,119.48 L431.68,117.44 L432.83,118.52 L433.98,118.02 L435.13,118.32 L436.28,118.85 L437.43,119.19 L438.59,120.42 L439.74,120.97 L440.89,119.09 L442.04,120.58 L443.19,120.90 L444.34,119.86 L445.49,119.95 L446.64,121.39 L447.80,122.13 L448.95,121.55 L450.10,121.22 L451.25,122.16" stroke="#ee1c25" stroke-width="1.35"/>
</g>
<rect x="268.2" y="29.4" width="183.05" height="147.70" fill="none" stroke="#2a2a2a" stroke-width="1.1"/>
<line x1="268.20" y1="177.1" x2="268.20" y2="179.9" stroke="#2a2a2a" stroke-width="1"/>
<text x="268.20" y="189.60" font-size="10.4" text-anchor="middle" fill="#1a1a1a" >-8</text>
<line x1="291.08" y1="177.1" x2="291.08" y2="179.9" stroke="#2a2a2a" stroke-width="1"/>
<text x="291.08" y="189.60" font-size="10.4" text-anchor="middle" fill="#1a1a1a" >-6</text>
<line x1="313.96" y1="177.1" x2="313.96" y2="179.9" stroke="#2a2a2a" stroke-width="1"/>
<text x="313.96" y="189.60" font-size="10.4" text-anchor="middle" fill="#1a1a1a" >-4</text>
<line x1="336.84" y1="177.1" x2="336.84" y2="179.9" stroke="#2a2a2a" stroke-width="1"/>
<text x="336.84" y="189.60" font-size="10.4" text-anchor="middle" fill="#1a1a1a" >-2</text>
<line x1="359.73" y1="177.1" x2="359.73" y2="179.9" stroke="#2a2a2a" stroke-width="1"/>
<text x="359.73" y="189.60" font-size="10.4" text-anchor="middle" fill="#1a1a1a" >0</text>
<line x1="382.61" y1="177.1" x2="382.61" y2="179.9" stroke="#2a2a2a" stroke-width="1"/>
<text x="382.61" y="189.60" font-size="10.4" text-anchor="middle" fill="#1a1a1a" >2</text>
<line x1="405.49" y1="177.1" x2="405.49" y2="179.9" stroke="#2a2a2a" stroke-width="1"/>
<text x="405.49" y="189.60" font-size="10.4" text-anchor="middle" fill="#1a1a1a" >4</text>
<line x1="428.37" y1="177.1" x2="428.37" y2="179.9" stroke="#2a2a2a" stroke-width="1"/>
<text x="428.37" y="189.60" font-size="10.4" text-anchor="middle" fill="#1a1a1a" >6</text>
<line x1="451.25" y1="177.1" x2="451.25" y2="179.9" stroke="#2a2a2a" stroke-width="1"/>
<text x="451.25" y="189.60" font-size="10.4" text-anchor="middle" fill="#1a1a1a" >8</text>
<line x1="279.64" y1="177.1" x2="279.64" y2="178.7" stroke="#2a2a2a" stroke-width="1"/>
<line x1="302.52" y1="177.1" x2="302.52" y2="178.7" stroke="#2a2a2a" stroke-width="1"/>
<line x1="325.40" y1="177.1" x2="325.40" y2="178.7" stroke="#2a2a2a" stroke-width="1"/>
<line x1="348.28" y1="177.1" x2="348.28" y2="178.7" stroke="#2a2a2a" stroke-width="1"/>
<line x1="371.17" y1="177.1" x2="371.17" y2="178.7" stroke="#2a2a2a" stroke-width="1"/>
<line x1="394.05" y1="177.1" x2="394.05" y2="178.7" stroke="#2a2a2a" stroke-width="1"/>
<line x1="416.93" y1="177.1" x2="416.93" y2="178.7" stroke="#2a2a2a" stroke-width="1"/>
<line x1="439.81" y1="177.1" x2="439.81" y2="178.7" stroke="#2a2a2a" stroke-width="1"/>
<line x1="268.2" y1="177.10" x2="265.4" y2="177.10" stroke="#2a2a2a" stroke-width="1"/>
<text x="263.00" y="180.10" font-size="10.4" text-anchor="end" fill="#1a1a1a" >-600</text>
<line x1="268.2" y1="152.48" x2="265.4" y2="152.48" stroke="#2a2a2a" stroke-width="1"/>
<text x="263.00" y="155.48" font-size="10.4" text-anchor="end" fill="#1a1a1a" >-400</text>
<line x1="268.2" y1="127.87" x2="265.4" y2="127.87" stroke="#2a2a2a" stroke-width="1"/>
<text x="263.00" y="130.87" font-size="10.4" text-anchor="end" fill="#1a1a1a" >-200</text>
<line x1="268.2" y1="103.25" x2="265.4" y2="103.25" stroke="#2a2a2a" stroke-width="1"/>
<text x="263.00" y="106.25" font-size="10.4" text-anchor="end" fill="#1a1a1a" >0</text>
<line x1="268.2" y1="78.63" x2="265.4" y2="78.63" stroke="#2a2a2a" stroke-width="1"/>
<text x="263.00" y="81.63" font-size="10.4" text-anchor="end" fill="#1a1a1a" >200</text>
<line x1="268.2" y1="54.02" x2="265.4" y2="54.02" stroke="#2a2a2a" stroke-width="1"/>
<text x="263.00" y="57.02" font-size="10.4" text-anchor="end" fill="#1a1a1a" >400</text>
<line x1="268.2" y1="29.40" x2="265.4" y2="29.40" stroke="#2a2a2a" stroke-width="1"/>
<text x="263.00" y="32.40" font-size="10.4" text-anchor="end" fill="#1a1a1a" >600</text>
<line x1="268.2" y1="164.79" x2="266.59999999999997" y2="164.79" stroke="#2a2a2a" stroke-width="1"/>
<line x1="268.2" y1="140.18" x2="266.59999999999997" y2="140.18" stroke="#2a2a2a" stroke-width="1"/>
<line x1="268.2" y1="115.56" x2="266.59999999999997" y2="115.56" stroke="#2a2a2a" stroke-width="1"/>
<line x1="268.2" y1="90.94" x2="266.59999999999997" y2="90.94" stroke="#2a2a2a" stroke-width="1"/>
<line x1="268.2" y1="66.33" x2="266.59999999999997" y2="66.33" stroke="#2a2a2a" stroke-width="1"/>
<line x1="268.2" y1="41.71" x2="266.59999999999997" y2="41.71" stroke="#2a2a2a" stroke-width="1"/>
<line x1="302.2" y1="33" x2="302.2" y2="119.5" stroke="#111" stroke-width="1"/>
<polygon points="300.8,118 303.6,118 302.2,123.6" fill="#111"/>
<text x="284.50" y="132.70" font-size="10.3" text-anchor="start" fill="#1a1a1a" ><tspan font-style="italic">V</tspan><tspan font-size="5.9" dy="3.0">g</tspan><tspan dy="-3.0">​</tspan> from 0 V to 2 V</text>
<text x="288.90" y="144.50" font-size="10.3" text-anchor="start" fill="#1a1a1a" >step 0.2 V</text>
<text x="360.70" y="202.70" font-size="10.3" text-anchor="middle" fill="#1a1a1a" ><tspan font-style="italic">B</tspan> (T)</text>
<text transform="translate(239.3,104) rotate(-90)" font-size="10.3" text-anchor="middle" fill="#1a1a1a"><tspan font-style="italic">R</tspan><tspan font-size="5.9" dy="3.0"><tspan font-style="italic">xy</tspan></tspan><tspan dy="-3.0">​</tspan> (Ω)</text>
<rect x="493.45" y="29.4" width="182.85" height="147.85" fill="none" stroke="#2a2a2a" stroke-width="1.1"/>
<line x1="511.7" y1="159.2" x2="511.7" y2="167.5" stroke="#1f6ff2" stroke-width="1.1"/>
<line x1="509.4" y1="159.2" x2="514.0" y2="159.2" stroke="#1f6ff2" stroke-width="1.1"/>
<line x1="509.4" y1="167.5" x2="514.0" y2="167.5" stroke="#1f6ff2" stroke-width="1.1"/>
<circle cx="511.7" cy="163.4" r="3.3" fill="#1f6ff2"/>
<circle cx="511.2" cy="162.9" r="0.9" fill="#b0ccff"/>
<line x1="526.4" y1="145.6" x2="526.4" y2="155.1" stroke="#1f6ff2" stroke-width="1.1"/>
<line x1="524.1" y1="145.6" x2="528.7" y2="145.6" stroke="#1f6ff2" stroke-width="1.1"/>
<line x1="524.1" y1="155.1" x2="528.7" y2="155.1" stroke="#1f6ff2" stroke-width="1.1"/>
<circle cx="526.4" cy="150.3" r="3.3" fill="#1f6ff2"/>
<circle cx="525.9" cy="149.8" r="0.9" fill="#b0ccff"/>
<line x1="541.0" y1="136.7" x2="541.0" y2="143.8" stroke="#1f6ff2" stroke-width="1.1"/>
<line x1="538.7" y1="136.7" x2="543.3" y2="136.7" stroke="#1f6ff2" stroke-width="1.1"/>
<line x1="538.7" y1="143.8" x2="543.3" y2="143.8" stroke="#1f6ff2" stroke-width="1.1"/>
<circle cx="541.0" cy="140.2" r="3.3" fill="#1f6ff2"/>
<circle cx="540.5" cy="139.7" r="0.9" fill="#b0ccff"/>
<line x1="555.6" y1="126.0" x2="555.6" y2="136.7" stroke="#1f6ff2" stroke-width="1.1"/>
<line x1="553.3" y1="126.0" x2="557.9" y2="126.0" stroke="#1f6ff2" stroke-width="1.1"/>
<line x1="553.3" y1="136.7" x2="557.9" y2="136.7" stroke="#1f6ff2" stroke-width="1.1"/>
<circle cx="555.6" cy="131.3" r="3.3" fill="#1f6ff2"/>
<circle cx="555.1" cy="130.8" r="0.9" fill="#b0ccff"/>
<line x1="570.2" y1="109.3" x2="570.2" y2="120.0" stroke="#1f6ff2" stroke-width="1.1"/>
<line x1="567.9" y1="109.3" x2="572.5" y2="109.3" stroke="#1f6ff2" stroke-width="1.1"/>
<line x1="567.9" y1="120.0" x2="572.5" y2="120.0" stroke="#1f6ff2" stroke-width="1.1"/>
<circle cx="570.2" cy="114.7" r="3.3" fill="#1f6ff2"/>
<circle cx="569.7" cy="114.2" r="0.9" fill="#b0ccff"/>
<line x1="584.9" y1="99.8" x2="584.9" y2="108.1" stroke="#1f6ff2" stroke-width="1.1"/>
<line x1="582.6" y1="99.8" x2="587.2" y2="99.8" stroke="#1f6ff2" stroke-width="1.1"/>
<line x1="582.6" y1="108.1" x2="587.2" y2="108.1" stroke="#1f6ff2" stroke-width="1.1"/>
<circle cx="584.9" cy="104.0" r="3.3" fill="#1f6ff2"/>
<circle cx="584.4" cy="103.5" r="0.9" fill="#b0ccff"/>
<line x1="599.5" y1="86.2" x2="599.5" y2="96.9" stroke="#1f6ff2" stroke-width="1.1"/>
<line x1="597.2" y1="86.2" x2="601.8" y2="86.2" stroke="#1f6ff2" stroke-width="1.1"/>
<line x1="597.2" y1="96.9" x2="601.8" y2="96.9" stroke="#1f6ff2" stroke-width="1.1"/>
<circle cx="599.5" cy="91.5" r="3.3" fill="#1f6ff2"/>
<circle cx="599.0" cy="91.0" r="0.9" fill="#b0ccff"/>
<line x1="614.1" y1="80.2" x2="614.1" y2="86.2" stroke="#1f6ff2" stroke-width="1.1"/>
<line x1="611.8" y1="80.2" x2="616.4" y2="80.2" stroke="#1f6ff2" stroke-width="1.1"/>
<line x1="611.8" y1="86.2" x2="616.4" y2="86.2" stroke="#1f6ff2" stroke-width="1.1"/>
<circle cx="614.1" cy="83.2" r="3.3" fill="#1f6ff2"/>
<circle cx="613.6" cy="82.7" r="0.9" fill="#b0ccff"/>
<line x1="628.8" y1="66.0" x2="628.8" y2="79.0" stroke="#1f6ff2" stroke-width="1.1"/>
<line x1="626.5" y1="66.0" x2="631.1" y2="66.0" stroke="#1f6ff2" stroke-width="1.1"/>
<line x1="626.5" y1="79.0" x2="631.1" y2="79.0" stroke="#1f6ff2" stroke-width="1.1"/>
<circle cx="628.8" cy="72.5" r="3.3" fill="#1f6ff2"/>
<circle cx="628.3" cy="72.0" r="0.9" fill="#b0ccff"/>
<line x1="643.4" y1="49.3" x2="643.4" y2="60.0" stroke="#1f6ff2" stroke-width="1.1"/>
<line x1="641.1" y1="49.3" x2="645.7" y2="49.3" stroke="#1f6ff2" stroke-width="1.1"/>
<line x1="641.1" y1="60.0" x2="645.7" y2="60.0" stroke="#1f6ff2" stroke-width="1.1"/>
<circle cx="643.4" cy="54.7" r="3.3" fill="#1f6ff2"/>
<circle cx="642.9" cy="54.2" r="0.9" fill="#b0ccff"/>
<line x1="658.0" y1="39.8" x2="658.0" y2="52.9" stroke="#1f6ff2" stroke-width="1.1"/>
<line x1="655.7" y1="39.8" x2="660.3" y2="39.8" stroke="#1f6ff2" stroke-width="1.1"/>
<line x1="655.7" y1="52.9" x2="660.3" y2="52.9" stroke="#1f6ff2" stroke-width="1.1"/>
<circle cx="658.0" cy="46.4" r="3.3" fill="#1f6ff2"/>
<circle cx="657.5" cy="45.9" r="0.9" fill="#b0ccff"/>
<line x1="511.7" y1="162.8" x2="658.0" y2="45.8" stroke="#f28a3a" stroke-width="1.2"/>
<line x1="511.74" y1="177.25" x2="511.74" y2="180.05" stroke="#2a2a2a" stroke-width="1"/>
<text x="511.74" y="189.75" font-size="10.4" text-anchor="middle" fill="#1a1a1a" >0.0</text>
<line x1="548.30" y1="177.25" x2="548.30" y2="180.05" stroke="#2a2a2a" stroke-width="1"/>
<text x="548.30" y="189.75" font-size="10.4" text-anchor="middle" fill="#1a1a1a" >0.5</text>
<line x1="584.88" y1="177.25" x2="584.88" y2="180.05" stroke="#2a2a2a" stroke-width="1"/>
<text x="584.88" y="189.75" font-size="10.4" text-anchor="middle" fill="#1a1a1a" >1.0</text>
<line x1="621.44" y1="177.25" x2="621.44" y2="180.05" stroke="#2a2a2a" stroke-width="1"/>
<text x="621.44" y="189.75" font-size="10.4" text-anchor="middle" fill="#1a1a1a" >1.5</text>
<line x1="658.01" y1="177.25" x2="658.01" y2="180.05" stroke="#2a2a2a" stroke-width="1"/>
<text x="658.01" y="189.75" font-size="10.4" text-anchor="middle" fill="#1a1a1a" >2.0</text>
<line x1="493.45" y1="177.25" x2="493.45" y2="178.85" stroke="#2a2a2a" stroke-width="1"/>
<line x1="530.02" y1="177.25" x2="530.02" y2="178.85" stroke="#2a2a2a" stroke-width="1"/>
<line x1="566.59" y1="177.25" x2="566.59" y2="178.85" stroke="#2a2a2a" stroke-width="1"/>
<line x1="603.16" y1="177.25" x2="603.16" y2="178.85" stroke="#2a2a2a" stroke-width="1"/>
<line x1="639.73" y1="177.25" x2="639.73" y2="178.85" stroke="#2a2a2a" stroke-width="1"/>
<line x1="676.30" y1="177.25" x2="676.30" y2="178.85" stroke="#2a2a2a" stroke-width="1"/>
<line x1="493.45" y1="162.20" x2="490.65" y2="162.20" stroke="#2a2a2a" stroke-width="1"/>
<text x="488.25" y="165.20" font-size="10.4" text-anchor="end" fill="#1a1a1a" >1.0</text>
<line x1="493.45" y1="132.50" x2="490.65" y2="132.50" stroke="#2a2a2a" stroke-width="1"/>
<text x="488.25" y="135.50" font-size="10.4" text-anchor="end" fill="#1a1a1a" >1.5</text>
<line x1="493.45" y1="102.80" x2="490.65" y2="102.80" stroke="#2a2a2a" stroke-width="1"/>
<text x="488.25" y="105.80" font-size="10.4" text-anchor="end" fill="#1a1a1a" >2.0</text>
<line x1="493.45" y1="73.10" x2="490.65" y2="73.10" stroke="#2a2a2a" stroke-width="1"/>
<text x="488.25" y="76.10" font-size="10.4" text-anchor="end" fill="#1a1a1a" >2.5</text>
<line x1="493.45" y1="43.40" x2="490.65" y2="43.40" stroke="#2a2a2a" stroke-width="1"/>
<text x="488.25" y="46.40" font-size="10.4" text-anchor="end" fill="#1a1a1a" >3.0</text>
<line x1="493.45" y1="177.05" x2="491.84999999999997" y2="177.05" stroke="#2a2a2a" stroke-width="1"/>
<line x1="493.45" y1="147.35" x2="491.84999999999997" y2="147.35" stroke="#2a2a2a" stroke-width="1"/>
<line x1="493.45" y1="117.65" x2="491.84999999999997" y2="117.65" stroke="#2a2a2a" stroke-width="1"/>
<line x1="493.45" y1="87.95" x2="491.84999999999997" y2="87.95" stroke="#2a2a2a" stroke-width="1"/>
<line x1="493.45" y1="58.25" x2="491.84999999999997" y2="58.25" stroke="#2a2a2a" stroke-width="1"/>
<text x="499.80" y="43.80" font-size="10.1" text-anchor="start" fill="#1a1a1a" ><tspan font-style="italic">C</tspan><tspan font-size="5.9" dy="3.0">ox</tspan><tspan dy="-3.0">​</tspan>/e = 9.04 × 10<tspan font-size="6.8" dy="-3.6">12</tspan><tspan dy="3.6">​</tspan> F/C × cm<tspan font-size="6.8" dy="-3.6">-2</tspan><tspan dy="3.6">​</tspan></text>
<text x="630.80" y="143.50" font-size="10.3" text-anchor="start" fill="#1a1a1a" >300 K</text>
<text x="558.90" y="167.10" font-size="10.3" text-anchor="start" fill="#3a86f0" >Error bar</text>
<line x1="604.2" y1="160.3" x2="604.2" y2="169" stroke="#3a86f0"/><line x1="602.6" y1="160.3" x2="605.8" y2="160.3" stroke="#3a86f0"/><line x1="602.6" y1="169" x2="605.8" y2="169" stroke="#3a86f0"/>
<text x="610.00" y="167.10" font-size="10.3" text-anchor="start" fill="#3a86f0" >× 20 = 0.4%</text>
<text x="586.90" y="200.10" font-size="10.3" text-anchor="middle" fill="#1a1a1a" ><tspan font-style="italic">V</tspan><tspan font-size="5.9" dy="3.0">g</tspan><tspan dy="-3.0">​</tspan> (V)</text>
<text transform="translate(470,94) rotate(-90)" font-size="10.3" text-anchor="middle" fill="#1a1a1a"><tspan font-style="italic">n</tspan><tspan font-size="5.9" dy="3.0">2D</tspan><tspan dy="-3.0">​</tspan> (10<tspan font-size="6.8" dy="-3.6">13</tspan><tspan dy="3.6">​</tspan> cm<tspan font-size="6.8" dy="-3.6">-2</tspan><tspan dy="3.6">​</tspan>)</text>
<path d="M37.60,224.90 L39.44,225.66 L41.28,226.92 L43.12,227.99 L44.96,229.18 L46.80,230.52 L48.64,231.95 L50.48,233.16 L52.32,234.22 L54.16,235.55 L56.00,236.37 L57.84,237.57 L59.68,238.89 L61.53,239.39 L63.37,240.65 L65.21,241.74 L67.05,242.51 L68.89,243.31 L70.73,244.14 L72.57,244.85 L74.41,245.77 L76.25,246.77 L78.09,247.52 L79.93,248.41 L81.77,249.21 L83.61,250.07 L85.45,250.64 L87.29,251.57 L89.13,252.32 L90.97,253.05 L92.81,253.67 L94.65,254.19 L96.49,255.17 L98.33,255.81 L100.17,256.60 L102.01,256.99 L103.85,257.66 L105.69,258.06 L107.54,258.46 L109.38,259.04 L111.22,259.30 L113.06,259.92 L114.90,260.29 L116.74,260.56 L118.58,261.18 L120.42,261.49 L122.26,261.69 L124.10,261.99 L125.94,262.31 L127.78,262.32 L129.62,262.38 L131.46,262.62 L133.30,263.00 L135.14,263.12 L136.98,263.08 L138.82,263.57 L140.66,263.58 L142.50,263.88 L144.34,263.95 L146.18,263.87 L148.02,264.04 L149.86,264.03 L151.71,264.09 L153.55,264.23 L155.39,264.38 L157.23,264.54 L159.07,264.32 L160.91,264.54 L162.75,264.48 L164.59,264.47 L166.43,264.64 L168.27,264.46 L170.11,264.65 L171.95,264.41 L173.79,264.28 L175.63,264.40 L177.47,264.03 L179.31,263.95 L181.15,263.92 L182.99,263.80 L184.83,263.62 L186.67,263.27 L188.51,263.20 L190.35,263.28 L192.19,263.14 L194.03,262.81 L195.87,262.81 L197.72,262.65 L199.56,262.59 L201.40,262.22 L203.24,262.31 L205.08,261.92 L206.92,261.95 L208.76,261.69 L210.60,261.27 L212.44,261.16 L214.28,261.04 L216.12,260.96 L217.96,260.54 L219.80,260.53" fill="none" stroke="#ee1c25" stroke-width="1.5"/>
<path d="M37.60,268.71 L39.44,268.97 L41.28,269.14 L43.12,269.57 L44.96,270.21 L46.80,270.51 L48.64,271.12 L50.48,271.67 L52.32,272.01 L54.16,272.13 L56.00,273.03 L57.84,273.47 L59.68,273.95 L61.53,274.33 L63.37,274.49 L65.21,275.33 L67.05,275.68 L68.89,276.24 L70.73,276.60 L72.57,277.07 L74.41,277.56 L76.25,278.26 L78.09,278.59 L79.93,279.01 L81.77,279.36 L83.61,280.05 L85.45,280.47 L87.29,280.94 L89.13,281.48 L90.97,281.87 L92.81,282.19 L94.65,282.60 L96.49,282.96 L98.33,283.39 L100.17,283.73 L102.01,283.99 L103.85,284.16 L105.69,284.64 L107.54,284.90 L109.38,284.89 L111.22,285.23 L113.06,285.23 L114.90,285.05 L116.74,285.26 L118.58,285.28 L120.42,284.94 L122.26,284.76 L124.10,284.79 L125.94,284.38 L127.78,284.28 L129.62,284.26 L131.46,284.31 L133.30,284.24 L135.14,284.04 L136.98,284.00 L138.82,283.98 L140.66,283.86 L142.50,283.74 L144.34,283.67 L146.18,283.85 L148.02,283.71 L149.86,284.06 L151.71,283.78 L153.55,283.61 L155.39,283.70 L157.23,283.73 L159.07,283.73 L160.91,283.71 L162.75,283.69 L164.59,283.59 L166.43,283.65 L168.27,283.79 L170.11,283.42 L171.95,283.36 L173.79,283.41 L175.63,283.38 L177.47,283.21 L179.31,283.13 L181.15,282.84 L182.99,282.67 L184.83,282.60 L186.67,282.41 L188.51,282.31 L190.35,282.07 L192.19,281.41 L194.03,281.44 L195.87,280.98 L197.72,280.51 L199.56,280.53 L201.40,280.17 L203.24,279.87 L205.08,279.48 L206.92,279.23 L208.76,279.05 L210.60,278.63 L212.44,278.52 L214.28,278.27 L216.12,278.00 L217.96,277.86 L219.80,277.66" fill="none" stroke="#f4534f" stroke-width="1.1"/>
<path d="M37.60,308.26 L39.44,308.28 L41.28,308.42 L43.12,308.52 L44.96,308.42 L46.80,308.34 L48.64,308.42 L50.48,308.18 L52.32,308.28 L54.16,308.36 L56.00,308.39 L57.84,308.36 L59.68,308.38 L61.53,308.28 L63.37,308.37 L65.21,308.48 L67.05,308.26 L68.89,308.37 L70.73,308.50 L72.57,308.75 L74.41,308.69 L76.25,308.83 L78.09,308.84 L79.93,308.65 L81.77,308.73 L83.61,308.63 L85.45,308.95 L87.29,308.92 L89.13,308.92 L90.97,308.94 L92.81,308.92 L94.65,308.89 L96.49,308.89 L98.33,308.99 L100.17,308.74 L102.01,308.69 L103.85,308.81 L105.69,308.93 L107.54,308.81 L109.38,308.74 L111.22,308.85 L113.06,308.75 L114.90,308.48 L116.74,308.54 L118.58,308.35 L120.42,308.50 L122.26,308.39 L124.10,308.39 L125.94,308.47 L127.78,308.02 L129.62,307.94 L131.46,307.73 L133.30,307.25 L135.14,307.30 L136.98,307.08 L138.82,306.96 L140.66,306.57 L142.50,306.26 L144.34,306.22 L146.18,305.86 L148.02,305.48 L149.86,305.21 L151.71,304.97 L153.55,304.80 L155.39,304.56 L157.23,303.92 L159.07,303.90 L160.91,303.43 L162.75,303.13 L164.59,302.86 L166.43,302.28 L168.27,302.14 L170.11,301.52 L171.95,301.26 L173.79,300.85 L175.63,300.79 L177.47,300.42 L179.31,299.94 L181.15,299.54 L182.99,299.05 L184.83,298.95 L186.67,298.54 L188.51,298.11 L190.35,297.61 L192.19,297.22 L194.03,296.88 L195.87,296.67 L197.72,296.03 L199.56,295.79 L201.40,295.60 L203.24,295.14 L205.08,294.88 L206.92,294.35 L208.76,293.99 L210.60,293.74 L212.44,293.29 L214.28,292.88 L216.12,292.47 L217.96,292.09 L219.80,292.24" fill="none" stroke="#f4a52b" stroke-width="1.1"/>
<path d="M37.60,335.12 L39.44,334.92 L41.28,334.91 L43.12,334.46 L44.96,334.11 L46.80,333.92 L48.64,333.70 L50.48,333.45 L52.32,333.19 L54.16,332.96 L56.00,332.55 L57.84,332.33 L59.68,332.01 L61.53,331.71 L63.37,331.62 L65.21,331.43 L67.05,331.44 L68.89,331.14 L70.73,330.85 L72.57,330.87 L74.41,330.64 L76.25,330.73 L78.09,330.20 L79.93,330.19 L81.77,330.06 L83.61,330.02 L85.45,329.86 L87.29,329.54 L89.13,329.36 L90.97,329.45 L92.81,329.44 L94.65,329.26 L96.49,328.87 L98.33,328.78 L100.17,328.44 L102.01,328.19 L103.85,328.32 L105.69,328.07 L107.54,327.76 L109.38,327.57 L111.22,327.54 L113.06,327.28 L114.90,327.00 L116.74,326.86 L118.58,326.59 L120.42,326.30 L122.26,326.00 L124.10,325.92 L125.94,325.47 L127.78,325.09 L129.62,325.13 L131.46,324.75 L133.30,324.33 L135.14,323.92 L136.98,323.60 L138.82,323.04 L140.66,322.84 L142.50,322.50 L144.34,322.08 L146.18,321.78 L148.02,321.27 L149.86,321.01 L151.71,320.43 L153.55,320.24 L155.39,319.80 L157.23,319.35 L159.07,319.09 L160.91,318.78 L162.75,318.34 L164.59,318.16 L166.43,317.61 L168.27,317.45 L170.11,317.05 L171.95,316.52 L173.79,316.36 L175.63,315.62 L177.47,315.43 L179.31,314.94 L181.15,314.57 L182.99,313.85 L184.83,313.45 L186.67,313.06 L188.51,312.73 L190.35,312.32 L192.19,311.91 L194.03,311.47 L195.87,311.02 L197.72,310.54 L199.56,310.26 L201.40,309.97 L203.24,309.63 L205.08,309.06 L206.92,308.85 L208.76,308.16 L210.60,308.02 L212.44,307.40 L214.28,307.16 L216.12,306.68 L217.96,306.40 L219.80,306.22" fill="none" stroke="#c6b532" stroke-width="1.1"/>
<path d="M37.60,356.65 L39.44,356.09 L41.28,355.85 L43.12,355.33 L44.96,354.81 L46.80,354.26 L48.64,353.76 L50.48,353.00 L52.32,352.60 L54.16,352.09 L56.00,351.44 L57.84,351.02 L59.68,350.35 L61.53,350.08 L63.37,349.47 L65.21,349.11 L67.05,348.85 L68.89,348.53 L70.73,348.01 L72.57,347.67 L74.41,347.53 L76.25,346.74 L78.09,346.91 L79.93,346.57 L81.77,345.96 L83.61,345.90 L85.45,345.47 L87.29,345.15 L89.13,344.50 L90.97,344.40 L92.81,344.11 L94.65,343.77 L96.49,343.46 L98.33,343.16 L100.17,342.55 L102.01,342.55 L103.85,342.18 L105.69,341.94 L107.54,341.58 L109.38,341.33 L111.22,341.05 L113.06,340.91 L114.90,340.26 L116.74,340.17 L118.58,339.52 L120.42,338.99 L122.26,338.44 L124.10,338.19 L125.94,337.36 L127.78,337.09 L129.62,336.48 L131.46,335.82 L133.30,335.26 L135.14,334.85 L136.98,334.27 L138.82,333.79 L140.66,333.16 L142.50,332.55 L144.34,332.10 L146.18,331.32 L148.02,330.96 L149.86,330.26 L151.71,329.50 L153.55,328.88 L155.39,328.33 L157.23,327.54 L159.07,327.31 L160.91,326.67 L162.75,325.85 L164.59,325.40 L166.43,325.06 L168.27,324.37 L170.11,323.66 L171.95,323.00 L173.79,322.54 L175.63,322.36 L177.47,321.75 L179.31,321.06 L181.15,320.81 L182.99,320.20 L184.83,319.69 L186.67,319.26 L188.51,318.84 L190.35,318.69 L192.19,317.99 L194.03,317.68 L195.87,317.53 L197.72,317.21 L199.56,316.59 L201.40,316.66 L203.24,316.27 L205.08,315.71 L206.92,315.87 L208.76,315.27 L210.60,315.32 L212.44,314.90 L214.28,314.62 L216.12,314.76 L217.96,314.56 L219.80,314.39" fill="none" stroke="#2ea848" stroke-width="1.1"/>
<rect x="37.1" y="216.5" width="183.20" height="147.50" fill="none" stroke="#2a2a2a" stroke-width="1.1"/>
<line x1="37.10" y1="364" x2="37.10" y2="366.8" stroke="#2a2a2a" stroke-width="1"/>
<text x="37.10" y="376.50" font-size="10.4" text-anchor="middle" fill="#1a1a1a" >50</text>
<line x1="73.74" y1="364" x2="73.74" y2="366.8" stroke="#2a2a2a" stroke-width="1"/>
<text x="73.74" y="376.50" font-size="10.4" text-anchor="middle" fill="#1a1a1a" >100</text>
<line x1="110.38" y1="364" x2="110.38" y2="366.8" stroke="#2a2a2a" stroke-width="1"/>
<text x="110.38" y="376.50" font-size="10.4" text-anchor="middle" fill="#1a1a1a" >150</text>
<line x1="147.02" y1="364" x2="147.02" y2="366.8" stroke="#2a2a2a" stroke-width="1"/>
<text x="147.02" y="376.50" font-size="10.4" text-anchor="middle" fill="#1a1a1a" >200</text>
<line x1="183.66" y1="364" x2="183.66" y2="366.8" stroke="#2a2a2a" stroke-width="1"/>
<text x="183.66" y="376.50" font-size="10.4" text-anchor="middle" fill="#1a1a1a" >250</text>
<line x1="220.30" y1="364" x2="220.30" y2="366.8" stroke="#2a2a2a" stroke-width="1"/>
<text x="220.30" y="376.50" font-size="10.4" text-anchor="middle" fill="#1a1a1a" >300</text>
<line x1="55.42" y1="364" x2="55.42" y2="365.6" stroke="#2a2a2a" stroke-width="1"/>
<line x1="92.06" y1="364" x2="92.06" y2="365.6" stroke="#2a2a2a" stroke-width="1"/>
<line x1="128.70" y1="364" x2="128.70" y2="365.6" stroke="#2a2a2a" stroke-width="1"/>
<line x1="165.34" y1="364" x2="165.34" y2="365.6" stroke="#2a2a2a" stroke-width="1"/>
<line x1="201.98" y1="364" x2="201.98" y2="365.6" stroke="#2a2a2a" stroke-width="1"/>
<line x1="37.1" y1="216.50" x2="34.300000000000004" y2="216.50" stroke="#2a2a2a" stroke-width="1"/>
<text x="31.90" y="219.50" font-size="10.4" text-anchor="end" fill="#1a1a1a" >6.0</text>
<line x1="37.1" y1="238.58" x2="34.300000000000004" y2="238.58" stroke="#2a2a2a" stroke-width="1"/>
<text x="31.90" y="241.58" font-size="10.4" text-anchor="end" fill="#1a1a1a" >4.0</text>
<line x1="37.1" y1="276.34" x2="34.300000000000004" y2="276.34" stroke="#2a2a2a" stroke-width="1"/>
<text x="31.90" y="279.34" font-size="10.4" text-anchor="end" fill="#1a1a1a" >2.0</text>
<line x1="37.1" y1="314.09" x2="34.300000000000004" y2="314.09" stroke="#2a2a2a" stroke-width="1"/>
<text x="31.90" y="317.09" font-size="10.4" text-anchor="end" fill="#1a1a1a" >1.0</text>
<line x1="37.1" y1="326.25" x2="34.300000000000004" y2="326.25" stroke="#2a2a2a" stroke-width="1"/>
<text x="31.90" y="329.25" font-size="10.4" text-anchor="end" fill="#1a1a1a" >0.8</text>
<line x1="37.1" y1="341.92" x2="34.300000000000004" y2="341.92" stroke="#2a2a2a" stroke-width="1"/>
<text x="31.90" y="344.92" font-size="10.4" text-anchor="end" fill="#1a1a1a" >0.6</text>
<line x1="37.1" y1="364.00" x2="34.300000000000004" y2="364.00" stroke="#2a2a2a" stroke-width="1"/>
<text x="31.90" y="367.00" font-size="10.4" text-anchor="end" fill="#1a1a1a" >0.4</text>
<line x1="37.1" y1="226.43" x2="35.5" y2="226.43" stroke="#2a2a2a" stroke-width="1"/>
<line x1="37.1" y1="254.25" x2="35.5" y2="254.25" stroke="#2a2a2a" stroke-width="1"/>
<line x1="37.1" y1="319.83" x2="35.5" y2="319.83" stroke="#2a2a2a" stroke-width="1"/>
<line x1="37.1" y1="333.52" x2="35.5" y2="333.52" stroke="#2a2a2a" stroke-width="1"/>
<line x1="37.1" y1="351.85" x2="35.5" y2="351.85" stroke="#2a2a2a" stroke-width="1"/>
<text x="102.30" y="251.60" font-size="10.3" text-anchor="start" fill="#1a1a1a" ><tspan font-style="italic">V</tspan><tspan font-size="5.9" dy="3.0">g</tspan><tspan dy="-3.0">​</tspan><tspan dx="0.9">=</tspan></text>
<text x="124.00" y="251.60" font-size="10.3" text-anchor="start" fill="#f01a40" >0.4 V</text>
<text x="124.00" y="277.80" font-size="10.3" text-anchor="start" fill="#f4534f" >0.8 V</text>
<text x="124.00" y="301.50" font-size="10.3" text-anchor="start" fill="#f2a12c" >1.2 V</text>
<text x="124.00" y="320.40" font-size="10.3" text-anchor="start" fill="#b5a72e" >1.6 V</text>
<text x="124.00" y="352.10" font-size="10.3" text-anchor="start" fill="#1f9e45" >2.0 V</text>
<text x="130.00" y="387.70" font-size="10.3" text-anchor="middle" fill="#1a1a1a" ><tspan font-style="italic">T</tspan> (K)</text>
<text transform="translate(9.6,288.3) rotate(-90)" font-size="10.3" text-anchor="middle" fill="#1a1a1a"><tspan font-style="italic">R</tspan><tspan font-size="5.9" dy="3.0">XX</tspan><tspan dy="-3.0">​</tspan> (10<tspan font-size="6.8" dy="-3.6">4</tspan><tspan dy="3.6">​</tspan> Ω)</text>
<g fill="none" stroke-width="0.9" stroke-linejoin="round">
<path d="M268.45,341.72 L270.75,342.36 L273.04,345.68 L275.34,338.91 L277.64,358.17 L279.93,342.30 L282.23,364.20 L284.53,354.62 L286.82,347.52 L289.12,342.57 L291.42,345.34 L293.71,336.04 L296.01,345.21 L298.31,343.15 L300.61,341.24 L302.90,338.04 L305.20,344.15 L307.50,341.24 L309.79,332.44 L312.09,341.37 L314.39,339.98 L316.68,340.42 L318.98,344.95 L321.28,343.32" stroke="#5e8f2e"/>
<path d="M268.45,343.01 L271.00,336.84 L273.55,340.40 L276.10,339.89 L278.66,339.32 L281.21,344.47 L283.76,341.91 L286.31,348.35 L288.86,363.37 L291.41,342.11 L293.96,353.61 L296.51,339.69 L299.07,339.80 L301.62,344.61 L304.17,353.17 L306.72,333.01 L309.27,360.15 L311.82,359.59 L314.37,347.25 L316.92,337.29 L319.48,337.70 L322.03,344.34 L324.58,342.02 L327.13,353.33" stroke="#e6bd2a"/>
<path d="M268.45,357.40 L270.94,336.91 L273.42,344.03 L275.91,343.90 L278.39,340.24 L280.88,348.56 L283.37,337.35 L285.85,340.15 L288.34,340.11 L290.82,363.59 L293.31,348.97 L295.80,340.64 L298.28,341.93 L300.77,355.69 L303.25,336.13 L305.74,352.72 L308.23,344.50 L310.71,341.90 L313.20,334.23 L315.68,340.22 L318.17,337.78 L320.66,353.46 L323.14,347.02 L325.63,350.62" stroke="#f5ae35"/>
<path d="M268.45,343.50 L271.12,348.05 L273.79,336.50 L276.46,338.19 L279.12,361.92 L281.79,339.91 L284.46,338.26 L287.13,338.73 L289.80,337.88 L292.47,340.77 L295.13,341.67 L297.80,338.72 L300.47,358.39 L303.14,343.26 L305.81,346.31 L308.48,342.50 L311.15,344.26 L313.81,359.57 L316.48,338.01 L319.15,341.52 L321.82,336.63 L324.49,361.55 L327.16,338.16 L329.83,352.30" stroke="#f4812c"/>
<path d="M268.45,364.20 L271.10,360.02 L273.75,351.96 L276.40,343.76 L279.05,337.92 L281.71,362.62 L284.36,340.74 L287.01,357.02 L289.66,339.57 L292.31,338.63 L294.96,349.47 L297.61,341.00 L300.26,336.98 L302.92,339.66 L305.57,362.85 L308.22,335.23 L310.87,343.78 L313.52,360.40 L316.17,346.49 L318.82,337.73 L321.47,344.70 L324.12,340.09 L326.78,343.59 L329.43,341.91" stroke="#ee1f3a"/>
<path d="M398.18,335.46 L401.73,340.28 L405.28,343.65 L408.83,339.44 L412.37,345.34 L415.92,336.62 L419.47,354.56 L423.02,333.41 L426.56,343.49 L430.11,333.40 L433.66,336.75 L437.21,351.91 L440.76,353.32 L444.30,337.18 L447.85,340.60 L451.40,337.02" stroke="#e6bd2a"/>
<path d="M403.29,339.23 L406.50,332.95 L409.71,333.14 L412.91,336.22 L416.12,333.09 L419.33,336.32 L422.54,334.32 L425.74,335.43 L428.95,338.79 L432.16,336.29 L435.36,337.25 L438.57,337.97 L441.78,339.43 L444.99,338.60 L448.19,339.61 L451.40,334.35" stroke="#f5ae35"/>
<path d="M400.30,337.75 L403.71,338.11 L407.12,340.61 L410.52,338.75 L413.93,347.61 L417.33,338.14 L420.74,335.34 L424.15,337.01 L427.55,338.21 L430.96,339.15 L434.37,354.28 L437.77,340.10 L441.18,339.69 L444.59,342.27 L447.99,336.34 L451.40,338.91" stroke="#f4812c"/>
<path d="M396.37,335.16 L400.04,335.82 L403.71,342.64 L407.37,346.42 L411.04,350.37 L414.71,353.32 L418.38,336.68 L422.05,340.05 L425.72,345.94 L429.39,340.57 L433.06,335.07 L436.72,337.61 L440.39,337.74 L444.06,342.79 L447.73,347.71 L451.40,337.36" stroke="#ee1f3a"/>
<path d="M268.45,334.76 L271.35,336.72 L274.26,334.12 L277.16,331.28 L280.07,331.81 L282.97,337.77 L285.87,335.71 L288.78,332.84 L291.68,334.07 L294.59,334.09 L297.49,334.44 L300.39,334.11 L303.30,336.01 L306.20,332.12 L309.11,336.06 L312.01,334.46 L314.91,331.49 L317.82,332.29 L320.72,334.22 L323.63,334.22 L326.53,339.65 L329.43,335.09 L332.34,334.63 L335.24,331.84 L338.15,339.89 L341.05,333.20 L343.95,333.44 L346.86,333.48 L349.76,334.69 L352.67,332.90 L355.57,333.91 L358.47,334.02 L361.38,335.03 L364.28,337.99 L367.18,332.90 L370.09,336.75 L372.99,344.63 L375.90,334.50 L378.80,333.68 L381.70,335.90 L384.61,332.93 L387.51,332.92 L390.42,332.67 L393.32,332.55 L396.22,337.52 L399.13,333.25 L402.03,334.95 L404.94,332.21 L407.84,332.31 L410.74,332.73 L413.65,334.32 L416.55,329.24 L419.46,334.26 L422.36,336.00 L425.26,332.45 L428.17,336.71 L431.07,330.78 L433.98,332.37 L436.88,331.82 L439.78,332.31 L442.69,333.44 L445.59,336.47 L448.50,335.20 L451.40,333.15" stroke="#5e8f2e"/>
<path d="M268.45,334.61 L271.35,332.68 L274.26,336.68 L277.16,333.88 L280.07,335.93 L282.97,336.33 L285.87,336.98 L288.78,337.11 L291.68,332.76 L294.59,332.68 L297.49,334.03 L300.39,332.39 L303.30,334.15 L306.20,335.07 L309.11,336.09 L312.01,332.86 L314.91,332.78 L317.82,331.99 L320.72,335.60 L323.63,334.69 L326.53,336.56 L329.43,332.19 L332.34,332.96 L335.24,333.30 L338.15,334.22 L341.05,334.45 L343.95,334.83 L346.86,332.28 L349.76,335.29 L352.67,332.63 L355.57,333.68 L358.47,335.95 L361.38,336.72 L364.28,335.55 L367.18,334.25 L370.09,336.45 L372.99,333.09 L375.90,332.19 L378.80,333.23 L381.70,337.15 L384.61,338.30 L387.51,332.66 L390.42,331.57 L393.32,334.88 L396.22,333.27 L399.13,334.66 L402.03,335.30 L404.94,332.44 L407.84,335.15 L410.74,332.69 L413.65,331.16 L416.55,334.40 L419.46,330.90 L422.36,336.49 L425.26,332.57 L428.17,334.17 L431.07,329.68 L433.98,334.11 L436.88,335.58 L439.78,331.33 L442.69,336.87 L445.59,333.40 L448.50,335.52 L451.40,331.75" stroke="#e6bd2a"/>
<path d="M268.45,336.60 L271.35,331.21 L274.26,334.16 L277.16,332.54 L280.07,336.35 L282.97,333.61 L285.87,334.45 L288.78,332.47 L291.68,332.67 L294.59,337.12 L297.49,332.18 L300.39,336.87 L303.30,331.84 L306.20,334.31 L309.11,336.34 L312.01,332.96 L314.91,334.15 L317.82,335.98 L320.72,335.53 L323.63,333.37 L326.53,336.65 L329.43,335.75 L332.34,330.92 L335.24,335.58 L338.15,333.56 L341.05,333.42 L343.95,332.51 L346.86,332.65 L349.76,338.71 L352.67,335.08 L355.57,332.11 L358.47,335.62 L361.38,330.97 L364.28,333.77 L367.18,336.39 L370.09,333.21 L372.99,330.75 L375.90,335.41 L378.80,333.22 L381.70,335.79 L384.61,335.25 L387.51,334.01 L390.42,333.30 L393.32,333.58 L396.22,333.83 L399.13,329.92 L402.03,336.14 L404.94,337.53 L407.84,333.21 L410.74,333.88 L413.65,336.77 L416.55,331.13 L419.46,335.46 L422.36,336.72 L425.26,333.46 L428.17,333.06 L431.07,330.00 L433.98,336.95 L436.88,336.48 L439.78,344.40 L442.69,334.99 L445.59,334.34 L448.50,335.47 L451.40,336.99" stroke="#f5ae35"/>
<path d="M268.45,336.34 L271.35,332.70 L274.26,333.25 L277.16,334.68 L280.07,334.47 L282.97,334.39 L285.87,338.80 L288.78,334.28 L291.68,333.59 L294.59,334.40 L297.49,336.08 L300.39,334.09 L303.30,333.32 L306.20,330.94 L309.11,332.27 L312.01,333.11 L314.91,334.27 L317.82,336.58 L320.72,335.02 L323.63,336.63 L326.53,334.36 L329.43,332.26 L332.34,332.29 L335.24,332.55 L338.15,334.14 L341.05,332.39 L343.95,334.66 L346.86,337.69 L349.76,333.93 L352.67,340.48 L355.57,337.30 L358.47,335.13 L361.38,338.57 L364.28,335.03 L367.18,332.00 L370.09,335.33 L372.99,331.82 L375.90,333.77 L378.80,335.51 L381.70,337.36 L384.61,332.83 L387.51,332.98 L390.42,336.84 L393.32,334.93 L396.22,332.19 L399.13,335.52 L402.03,333.47 L404.94,337.68 L407.84,335.83 L410.74,341.60 L413.65,336.30 L416.55,349.48 L419.46,336.68 L422.36,334.86 L425.26,337.01 L428.17,338.33 L431.07,333.18 L433.98,331.43 L436.88,344.79 L439.78,331.28 L442.69,333.17 L445.59,334.58 L448.50,333.24 L451.40,331.45" stroke="#f4812c"/>
<path d="M268.45,334.56 L271.35,334.60 L274.26,334.71 L277.16,336.62 L280.07,335.78 L282.97,334.33 L285.87,337.12 L288.78,336.53 L291.68,332.00 L294.59,335.38 L297.49,332.74 L300.39,332.21 L303.30,334.16 L306.20,339.37 L309.11,334.50 L312.01,335.74 L314.91,334.37 L317.82,334.05 L320.72,333.96 L323.63,334.04 L326.53,334.88 L329.43,332.27 L332.34,334.53 L335.24,334.91 L338.15,332.51 L341.05,335.95 L343.95,334.17 L346.86,331.53 L349.76,334.05 L352.67,331.63 L355.57,334.62 L358.47,335.07 L361.38,334.44 L364.28,335.15 L367.18,334.79 L370.09,334.94 L372.99,337.81 L375.90,333.44 L378.80,334.52 L381.70,335.48 L384.61,328.43 L387.51,334.50 L390.42,331.65 L393.32,336.25 L396.22,335.46 L399.13,331.96 L402.03,336.10 L404.94,336.05 L407.84,334.25 L410.74,335.45 L413.65,334.67 L416.55,333.87 L419.46,332.60 L422.36,333.82 L425.26,333.62 L428.17,331.79 L431.07,331.63 L433.98,334.77 L436.88,337.44 L439.78,335.94 L442.69,332.24 L445.59,334.99 L448.50,335.40 L451.40,334.94" stroke="#ee1f3a"/>
</g>
<g fill="none" stroke-linejoin="round">
<path d="M275.57,341.12 L276.26,338.08 L276.95,335.21 L277.65,332.50 L278.34,329.94 L279.03,327.52 L279.72,325.24 L280.42,323.08 L281.11,321.05 L281.80,319.12 L282.49,317.29 L283.18,315.55 L283.88,313.91 L284.57,312.33 L285.26,310.83 L285.95,309.39 L286.65,308.01 L287.34,306.68 L288.03,305.41 L288.72,304.18 L289.42,302.99 L290.11,301.85 L290.80,300.74 L291.49,299.66 L292.18,298.62 L292.88,297.60 L293.57,296.60 L294.26,295.62 L294.95,294.66 L295.65,293.71 L296.34,292.78 L297.03,291.86 L297.72,290.96 L298.41,290.07 L299.11,289.20 L299.80,288.34 L300.49,287.49 L301.18,286.66 L301.88,285.84 L302.57,285.04 L303.26,284.24 L303.95,283.46 L304.64,282.70 L305.34,281.94 L306.03,281.20 L306.72,280.48 L307.41,279.76 L308.11,279.06 L308.80,278.36 L309.49,277.68 L310.18,277.01 L310.87,276.36 L311.57,275.71 L312.26,275.07 L312.95,274.45 L313.64,273.83 L314.34,273.23 L315.03,272.63 L315.72,272.05 L316.41,271.48 L317.10,270.91 L317.80,270.36 L318.49,269.81 L319.18,269.28 L319.87,268.75 L320.57,268.23 L321.26,267.72 L321.95,267.22 L322.64,266.73 L323.33,266.24 L324.03,265.76 L324.72,265.29 L325.41,264.83 L326.10,264.38 L326.80,263.93 L327.49,263.49 L328.18,263.06 L328.87,262.63 L329.57,262.21 L330.26,261.80 L330.95,261.39 L331.64,260.99 L332.33,260.59 L333.03,260.20 L333.72,259.82 L334.41,259.44 L335.10,259.06 L335.80,258.69 L336.49,258.33 L337.18,257.97 L337.87,257.61 L338.56,257.26 L339.26,256.91 L339.95,256.57 L340.64,256.23 L341.33,255.90 L342.03,255.57 L342.72,255.24 L343.41,254.92 L344.10,254.61 L344.79,254.29 L345.49,253.99 L346.18,253.68 L346.87,253.38 L347.56,253.09 L348.26,252.80 L348.95,252.51 L349.64,252.23 L350.33,251.95 L351.02,251.67 L351.72,251.40 L352.41,251.13 L353.10,250.87 L353.79,250.61 L354.49,250.36 L355.18,250.10 L355.87,249.86 L356.56,249.61 L357.25,249.37 L357.95,249.13 L358.64,248.90 L359.33,248.67 L360.02,248.44 L360.72,248.22 L361.41,248.00 L362.10,247.79 L362.79,247.57 L363.49,247.36 L364.18,247.16 L364.87,246.96 L365.56,246.76 L366.25,246.56 L366.95,246.37 L367.64,246.18 L368.33,246.00 L369.02,245.81 L369.72,245.63 L370.41,245.46 L371.10,245.28 L371.79,245.11 L372.48,244.94 L373.18,244.78 L373.87,244.62 L374.56,244.46 L375.25,244.30 L375.95,244.15 L376.64,244.00 L377.33,243.85 L378.02,243.71 L378.71,243.57 L379.41,243.43 L380.10,243.29 L380.79,243.16 L381.48,243.03 L382.18,242.90 L382.87,242.77 L383.56,242.65 L384.25,242.53 L384.94,242.41 L385.64,242.29 L386.33,242.18 L387.02,242.07 L387.71,241.96 L388.41,241.85 L389.10,241.74 L389.79,241.64 L390.48,241.54 L391.17,241.44 L391.87,241.35 L392.56,241.25 L393.25,241.16 L393.94,241.07 L394.64,240.98 L395.33,240.90 L396.02,240.81 L396.71,240.73 L397.41,240.65 L398.10,240.57 L398.79,240.50 L399.48,240.42 L400.17,240.35 L400.87,240.28 L401.56,240.21 L402.25,240.14 L402.94,240.07 L403.64,240.01 L404.33,239.95 L405.02,239.88 L405.71,239.82 L406.40,239.76 L407.10,239.71 L407.79,239.65 L408.48,239.60 L409.17,239.54 L409.87,239.49 L410.56,239.44 L411.25,239.39 L411.94,239.34 L412.63,239.30 L413.33,239.25 L414.02,239.21 L414.71,239.16 L415.40,239.12 L416.10,239.08 L416.79,239.04 L417.48,239.00 L418.17,238.96 L418.86,238.93 L419.56,238.89 L420.25,238.85 L420.94,238.82 L421.63,238.78 L422.33,238.75 L423.02,238.72 L423.71,238.69 L424.40,238.65 L425.09,238.62 L425.79,238.59 L426.48,238.56 L427.17,238.53 L427.86,238.51 L428.56,238.48 L429.25,238.45 L429.94,238.42 L430.63,238.40 L431.32,238.37 L432.02,238.34 L432.71,238.32 L433.40,238.29 L434.09,238.27 L434.79,238.24 L435.48,238.22 L436.17,238.19 L436.86,238.17 L437.56,238.14 L438.25,238.12 L438.94,238.09 L439.63,238.07 L440.32,238.04 L441.02,238.02 L441.71,237.99 L442.40,237.97 L443.09,237.94 L443.79,237.92 L444.48,237.89 L445.17,237.86 L445.86,237.84 L446.55,237.81 L447.25,237.78 L447.94,237.76 L448.63,237.73 L449.32,237.70 L450.02,237.67 L450.71,237.64 L451.40,237.61" stroke="#5e8f2e" stroke-width="1.2"/>
<path d="M273.49,341.98 L274.19,340.56 L274.88,339.31 L275.57,337.36 L276.26,334.22 L276.95,331.32 L277.65,328.65 L278.34,326.17 L279.03,323.86 L279.72,321.71 L280.42,319.70 L281.11,317.79 L281.80,315.97 L282.49,314.23 L283.18,312.57 L283.88,310.97 L284.57,309.44 L285.26,307.97 L285.95,306.55 L286.65,305.18 L287.34,303.85 L288.03,302.57 L288.72,301.32 L289.42,300.12 L290.11,298.95 L290.80,297.82 L291.49,296.71 L292.18,295.64 L292.88,294.59 L293.57,293.56 L294.26,292.55 L294.95,291.55 L295.65,290.58 L296.34,289.62 L297.03,288.68 L297.72,287.75 L298.41,286.84 L299.11,285.94 L299.80,285.06 L300.49,284.20 L301.18,283.35 L301.88,282.51 L302.57,281.69 L303.26,280.89 L303.95,280.10 L304.64,279.32 L305.34,278.55 L306.03,277.80 L306.72,277.07 L307.41,276.34 L308.11,275.63 L308.80,274.93 L309.49,274.24 L310.18,273.57 L310.87,272.91 L311.57,272.25 L312.26,271.61 L312.95,270.98 L313.64,270.37 L314.34,269.76 L315.03,269.16 L315.72,268.58 L316.41,268.00 L317.10,267.43 L317.80,266.88 L318.49,266.33 L319.18,265.79 L319.87,265.26 L320.57,264.74 L321.26,264.23 L321.95,263.72 L322.64,263.23 L323.33,262.74 L324.03,262.26 L324.72,261.79 L325.41,261.32 L326.10,260.86 L326.80,260.41 L327.49,259.96 L328.18,259.52 L328.87,259.09 L329.57,258.66 L330.26,258.24 L330.95,257.82 L331.64,257.41 L332.33,257.01 L333.03,256.61 L333.72,256.22 L334.41,255.83 L335.10,255.44 L335.80,255.07 L336.49,254.69 L337.18,254.32 L337.87,253.96 L338.56,253.60 L339.26,253.24 L339.95,252.89 L340.64,252.55 L341.33,252.20 L342.03,251.87 L342.72,251.53 L343.41,251.20 L344.10,250.88 L344.79,250.56 L345.49,250.24 L346.18,249.93 L346.87,249.62 L347.56,249.32 L348.26,249.02 L348.95,248.73 L349.64,248.44 L350.33,248.15 L351.02,247.87 L351.72,247.59 L352.41,247.31 L353.10,247.04 L353.79,246.77 L354.49,246.51 L355.18,246.25 L355.87,245.99 L356.56,245.74 L357.25,245.49 L357.95,245.25 L358.64,245.01 L359.33,244.77 L360.02,244.54 L360.72,244.31 L361.41,244.08 L362.10,243.86 L362.79,243.64 L363.49,243.42 L364.18,243.21 L364.87,243.00 L365.56,242.79 L366.25,242.59 L366.95,242.39 L367.64,242.19 L368.33,242.00 L369.02,241.81 L369.72,241.62 L370.41,241.44 L371.10,241.26 L371.79,241.08 L372.48,240.91 L373.18,240.74 L373.87,240.57 L374.56,240.40 L375.25,240.24 L375.95,240.08 L376.64,239.92 L377.33,239.77 L378.02,239.62 L378.71,239.47 L379.41,239.32 L380.10,239.18 L380.79,239.04 L381.48,238.90 L382.18,238.77 L382.87,238.63 L383.56,238.50 L384.25,238.37 L384.94,238.25 L385.64,238.13 L386.33,238.01 L387.02,237.89 L387.71,237.77 L388.41,237.66 L389.10,237.55 L389.79,237.44 L390.48,237.33 L391.17,237.22 L391.87,237.12 L392.56,237.02 L393.25,236.92 L393.94,236.83 L394.64,236.73 L395.33,236.64 L396.02,236.55 L396.71,236.46 L397.41,236.37 L398.10,236.29 L398.79,236.21 L399.48,236.12 L400.17,236.04 L400.87,235.97 L401.56,235.89 L402.25,235.82 L402.94,235.74 L403.64,235.67 L404.33,235.60 L405.02,235.53 L405.71,235.47 L406.40,235.40 L407.10,235.34 L407.79,235.28 L408.48,235.22 L409.17,235.16 L409.87,235.10 L410.56,235.04 L411.25,234.98 L411.94,234.93 L412.63,234.88 L413.33,234.82 L414.02,234.77 L414.71,234.72 L415.40,234.67 L416.10,234.63 L416.79,234.58 L417.48,234.53 L418.17,234.49 L418.86,234.44 L419.56,234.40 L420.25,234.36 L420.94,234.32 L421.63,234.27 L422.33,234.23 L423.02,234.20 L423.71,234.16 L424.40,234.12 L425.09,234.08 L425.79,234.04 L426.48,234.01 L427.17,233.97 L427.86,233.94 L428.56,233.90 L429.25,233.87 L429.94,233.83 L430.63,233.80 L431.32,233.76 L432.02,233.73 L432.71,233.70 L433.40,233.66 L434.09,233.63 L434.79,233.60 L435.48,233.57 L436.17,233.54 L436.86,233.50 L437.56,233.47 L438.25,233.44 L438.94,233.41 L439.63,233.37 L440.32,233.34 L441.02,233.31 L441.71,233.28 L442.40,233.24 L443.09,233.21 L443.79,233.18 L444.48,233.14 L445.17,233.11 L445.86,233.08 L446.55,233.04 L447.25,233.01 L447.94,232.97 L448.63,232.94 L449.32,232.90 L450.02,232.86 L450.71,232.83 L451.40,232.79" stroke="#e6bd2a" stroke-width="1.2"/>
<path d="M273.49,341.69 L274.19,339.00 L274.88,336.63 L275.57,334.01 L276.26,330.77 L276.95,327.85 L277.65,325.20 L278.34,322.80 L279.03,320.59 L279.72,318.56 L280.42,316.67 L281.11,314.88 L281.80,313.16 L282.49,311.50 L283.18,309.90 L283.88,308.36 L284.57,306.86 L285.26,305.41 L285.95,304.01 L286.65,302.64 L287.34,301.32 L288.03,300.03 L288.72,298.78 L289.42,297.56 L290.11,296.37 L290.80,295.21 L291.49,294.08 L292.18,292.98 L292.88,291.90 L293.57,290.84 L294.26,289.80 L294.95,288.78 L295.65,287.78 L296.34,286.79 L297.03,285.83 L297.72,284.88 L298.41,283.95 L299.11,283.04 L299.80,282.14 L300.49,281.26 L301.18,280.39 L301.88,279.54 L302.57,278.71 L303.26,277.89 L303.95,277.09 L304.64,276.30 L305.34,275.53 L306.03,274.77 L306.72,274.02 L307.41,273.29 L308.11,272.57 L308.80,271.86 L309.49,271.17 L310.18,270.49 L310.87,269.82 L311.57,269.17 L312.26,268.53 L312.95,267.89 L313.64,267.27 L314.34,266.66 L315.03,266.06 L315.72,265.48 L316.41,264.90 L317.10,264.33 L317.80,263.77 L318.49,263.22 L319.18,262.68 L319.87,262.15 L320.57,261.63 L321.26,261.11 L321.95,260.60 L322.64,260.11 L323.33,259.61 L324.03,259.13 L324.72,258.65 L325.41,258.18 L326.10,257.72 L326.80,257.26 L327.49,256.81 L328.18,256.36 L328.87,255.93 L329.57,255.49 L330.26,255.06 L330.95,254.64 L331.64,254.22 L332.33,253.81 L333.03,253.40 L333.72,253.00 L334.41,252.61 L335.10,252.22 L335.80,251.83 L336.49,251.45 L337.18,251.07 L337.87,250.70 L338.56,250.33 L339.26,249.97 L339.95,249.61 L340.64,249.25 L341.33,248.91 L342.03,248.56 L342.72,248.22 L343.41,247.88 L344.10,247.55 L344.79,247.22 L345.49,246.90 L346.18,246.58 L346.87,246.27 L347.56,245.96 L348.26,245.65 L348.95,245.35 L349.64,245.05 L350.33,244.75 L351.02,244.46 L351.72,244.18 L352.41,243.90 L353.10,243.62 L353.79,243.34 L354.49,243.07 L355.18,242.81 L355.87,242.55 L356.56,242.29 L357.25,242.03 L357.95,241.78 L358.64,241.53 L359.33,241.29 L360.02,241.05 L360.72,240.81 L361.41,240.58 L362.10,240.35 L362.79,240.12 L363.49,239.90 L364.18,239.68 L364.87,239.46 L365.56,239.25 L366.25,239.04 L366.95,238.84 L367.64,238.63 L368.33,238.43 L369.02,238.24 L369.72,238.04 L370.41,237.85 L371.10,237.67 L371.79,237.48 L372.48,237.30 L373.18,237.13 L373.87,236.95 L374.56,236.78 L375.25,236.61 L375.95,236.45 L376.64,236.28 L377.33,236.12 L378.02,235.96 L378.71,235.81 L379.41,235.66 L380.10,235.51 L380.79,235.36 L381.48,235.22 L382.18,235.08 L382.87,234.94 L383.56,234.80 L384.25,234.67 L384.94,234.54 L385.64,234.41 L386.33,234.28 L387.02,234.16 L387.71,234.03 L388.41,233.91 L389.10,233.80 L389.79,233.68 L390.48,233.57 L391.17,233.46 L391.87,233.35 L392.56,233.24 L393.25,233.14 L393.94,233.04 L394.64,232.94 L395.33,232.84 L396.02,232.74 L396.71,232.65 L397.41,232.55 L398.10,232.46 L398.79,232.38 L399.48,232.29 L400.17,232.20 L400.87,232.12 L401.56,232.04 L402.25,231.96 L402.94,231.88 L403.64,231.80 L404.33,231.73 L405.02,231.65 L405.71,231.58 L406.40,231.51 L407.10,231.44 L407.79,231.37 L408.48,231.30 L409.17,231.24 L409.87,231.17 L410.56,231.11 L411.25,231.05 L411.94,230.99 L412.63,230.93 L413.33,230.87 L414.02,230.81 L414.71,230.76 L415.40,230.70 L416.10,230.65 L416.79,230.60 L417.48,230.54 L418.17,230.49 L418.86,230.44 L419.56,230.39 L420.25,230.34 L420.94,230.30 L421.63,230.25 L422.33,230.20 L423.02,230.16 L423.71,230.11 L424.40,230.07 L425.09,230.02 L425.79,229.98 L426.48,229.94 L427.17,229.90 L427.86,229.85 L428.56,229.81 L429.25,229.77 L429.94,229.73 L430.63,229.69 L431.32,229.65 L432.02,229.61 L432.71,229.57 L433.40,229.53 L434.09,229.49 L434.79,229.46 L435.48,229.42 L436.17,229.38 L436.86,229.34 L437.56,229.30 L438.25,229.26 L438.94,229.22 L439.63,229.18 L440.32,229.15 L441.02,229.11 L441.71,229.07 L442.40,229.03 L443.09,228.99 L443.79,228.95 L444.48,228.91 L445.17,228.87 L445.86,228.83 L446.55,228.78 L447.25,228.74 L447.94,228.70 L448.63,228.66 L449.32,228.61 L450.02,228.57 L450.71,228.53 L451.40,228.48" stroke="#f5ae35" stroke-width="1.3"/>
<path d="M273.49,341.37 L274.19,337.31 L274.88,333.75 L275.57,330.39 L276.26,327.05 L276.95,324.10 L277.65,321.48 L278.34,319.15 L279.03,317.06 L279.72,315.16 L280.42,313.40 L281.11,311.74 L281.80,310.12 L282.49,308.55 L283.18,307.02 L283.88,305.53 L284.57,304.07 L285.26,302.65 L285.95,301.27 L286.65,299.91 L287.34,298.59 L288.03,297.29 L288.72,296.03 L289.42,294.79 L290.11,293.58 L290.80,292.40 L291.49,291.24 L292.18,290.10 L292.88,288.99 L293.57,287.90 L294.26,286.83 L294.95,285.78 L295.65,284.75 L296.34,283.74 L297.03,282.75 L297.72,281.78 L298.41,280.83 L299.11,279.90 L299.80,278.98 L300.49,278.08 L301.18,277.20 L301.88,276.34 L302.57,275.49 L303.26,274.66 L303.95,273.84 L304.64,273.04 L305.34,272.26 L306.03,271.49 L306.72,270.73 L307.41,269.99 L308.11,269.27 L308.80,268.55 L309.49,267.86 L310.18,267.17 L310.87,266.50 L311.57,265.84 L312.26,265.19 L312.95,264.55 L313.64,263.93 L314.34,263.32 L315.03,262.72 L315.72,262.13 L316.41,261.54 L317.10,260.97 L317.80,260.41 L318.49,259.86 L319.18,259.32 L319.87,258.79 L320.57,258.26 L321.26,257.74 L321.95,257.23 L322.64,256.73 L323.33,256.24 L324.03,255.75 L324.72,255.27 L325.41,254.80 L326.10,254.33 L326.80,253.86 L327.49,253.41 L328.18,252.96 L328.87,252.51 L329.57,252.07 L330.26,251.63 L330.95,251.20 L331.64,250.78 L332.33,250.36 L333.03,249.94 L333.72,249.53 L334.41,249.13 L335.10,248.73 L335.80,248.33 L336.49,247.94 L337.18,247.56 L337.87,247.18 L338.56,246.80 L339.26,246.43 L339.95,246.06 L340.64,245.70 L341.33,245.34 L342.03,244.99 L342.72,244.64 L343.41,244.30 L344.10,243.96 L344.79,243.62 L345.49,243.29 L346.18,242.96 L346.87,242.64 L347.56,242.32 L348.26,242.01 L348.95,241.70 L349.64,241.39 L350.33,241.09 L351.02,240.79 L351.72,240.50 L352.41,240.21 L353.10,239.92 L353.79,239.64 L354.49,239.36 L355.18,239.09 L355.87,238.82 L356.56,238.55 L357.25,238.29 L357.95,238.03 L358.64,237.78 L359.33,237.53 L360.02,237.28 L360.72,237.04 L361.41,236.80 L362.10,236.56 L362.79,236.33 L363.49,236.10 L364.18,235.87 L364.87,235.65 L365.56,235.43 L366.25,235.21 L366.95,235.00 L367.64,234.79 L368.33,234.58 L369.02,234.38 L369.72,234.18 L370.41,233.98 L371.10,233.79 L371.79,233.60 L372.48,233.41 L373.18,233.23 L373.87,233.05 L374.56,232.87 L375.25,232.69 L375.95,232.52 L376.64,232.35 L377.33,232.18 L378.02,232.02 L378.71,231.86 L379.41,231.70 L380.10,231.54 L380.79,231.39 L381.48,231.24 L382.18,231.09 L382.87,230.95 L383.56,230.80 L384.25,230.66 L384.94,230.53 L385.64,230.39 L386.33,230.26 L387.02,230.13 L387.71,230.00 L388.41,229.87 L389.10,229.75 L389.79,229.63 L390.48,229.51 L391.17,229.39 L391.87,229.28 L392.56,229.16 L393.25,229.05 L393.94,228.94 L394.64,228.84 L395.33,228.73 L396.02,228.63 L396.71,228.53 L397.41,228.43 L398.10,228.33 L398.79,228.24 L399.48,228.14 L400.17,228.05 L400.87,227.96 L401.56,227.87 L402.25,227.79 L402.94,227.70 L403.64,227.62 L404.33,227.54 L405.02,227.46 L405.71,227.38 L406.40,227.30 L407.10,227.23 L407.79,227.15 L408.48,227.08 L409.17,227.01 L409.87,226.94 L410.56,226.87 L411.25,226.80 L411.94,226.73 L412.63,226.67 L413.33,226.60 L414.02,226.54 L414.71,226.47 L415.40,226.41 L416.10,226.35 L416.79,226.29 L417.48,226.24 L418.17,226.18 L418.86,226.12 L419.56,226.06 L420.25,226.01 L420.94,225.96 L421.63,225.90 L422.33,225.85 L423.02,225.80 L423.71,225.75 L424.40,225.69 L425.09,225.64 L425.79,225.59 L426.48,225.54 L427.17,225.50 L427.86,225.45 L428.56,225.40 L429.25,225.35 L429.94,225.30 L430.63,225.26 L431.32,225.21 L432.02,225.16 L432.71,225.12 L433.40,225.07 L434.09,225.03 L434.79,224.98 L435.48,224.93 L436.17,224.89 L436.86,224.84 L437.56,224.80 L438.25,224.75 L438.94,224.71 L439.63,224.66 L440.32,224.61 L441.02,224.57 L441.71,224.52 L442.40,224.47 L443.09,224.43 L443.79,224.38 L444.48,224.33 L445.17,224.28 L445.86,224.24 L446.55,224.19 L447.25,224.14 L447.94,224.09 L448.63,224.04 L449.32,223.99 L450.02,223.93 L450.71,223.88 L451.40,223.83" stroke="#f4812c" stroke-width="1.4"/>
<path d="M273.49,341.14 L274.19,336.07 L274.88,331.61 L275.57,327.70 L276.26,324.29 L276.95,321.32 L277.65,318.73 L278.34,316.46 L279.03,314.45 L279.72,312.64 L280.42,310.98 L281.11,309.41 L281.80,307.88 L282.49,306.37 L283.18,304.89 L283.88,303.44 L284.57,302.01 L285.26,300.61 L285.95,299.24 L286.65,297.89 L287.34,296.56 L288.03,295.26 L288.72,293.99 L289.42,292.74 L290.11,291.51 L290.80,290.31 L291.49,289.13 L292.18,287.97 L292.88,286.84 L293.57,285.72 L294.26,284.63 L294.95,283.56 L295.65,282.51 L296.34,281.49 L297.03,280.48 L297.72,279.49 L298.41,278.52 L299.11,277.57 L299.80,276.64 L300.49,275.73 L301.18,274.84 L301.88,273.96 L302.57,273.10 L303.26,272.26 L303.95,271.43 L304.64,270.63 L305.34,269.83 L306.03,269.06 L306.72,268.30 L307.41,267.55 L308.11,266.82 L308.80,266.10 L309.49,265.40 L310.18,264.71 L310.87,264.03 L311.57,263.37 L312.26,262.72 L312.95,262.08 L313.64,261.46 L314.34,260.84 L315.03,260.24 L315.72,259.64 L316.41,259.06 L317.10,258.49 L317.80,257.93 L318.49,257.37 L319.18,256.83 L319.87,256.29 L320.57,255.77 L321.26,255.25 L321.95,254.74 L322.64,254.23 L323.33,253.74 L324.03,253.25 L324.72,252.76 L325.41,252.29 L326.10,251.81 L326.80,251.35 L327.49,250.89 L328.18,250.43 L328.87,249.98 L329.57,249.53 L330.26,249.09 L330.95,248.66 L331.64,248.23 L332.33,247.80 L333.03,247.38 L333.72,246.96 L334.41,246.55 L335.10,246.15 L335.80,245.74 L336.49,245.35 L337.18,244.96 L337.87,244.57 L338.56,244.19 L339.26,243.81 L339.95,243.44 L340.64,243.07 L341.33,242.70 L342.03,242.34 L342.72,241.99 L343.41,241.64 L344.10,241.29 L344.79,240.95 L345.49,240.62 L346.18,240.28 L346.87,239.95 L347.56,239.63 L348.26,239.31 L348.95,238.99 L349.64,238.68 L350.33,238.38 L351.02,238.07 L351.72,237.77 L352.41,237.48 L353.10,237.19 L353.79,236.90 L354.49,236.62 L355.18,236.34 L355.87,236.06 L356.56,235.79 L357.25,235.52 L357.95,235.26 L358.64,235.00 L359.33,234.74 L360.02,234.49 L360.72,234.24 L361.41,233.99 L362.10,233.75 L362.79,233.51 L363.49,233.28 L364.18,233.05 L364.87,232.82 L365.56,232.59 L366.25,232.37 L366.95,232.16 L367.64,231.94 L368.33,231.73 L369.02,231.52 L369.72,231.32 L370.41,231.11 L371.10,230.92 L371.79,230.72 L372.48,230.53 L373.18,230.34 L373.87,230.15 L374.56,229.97 L375.25,229.79 L375.95,229.61 L376.64,229.44 L377.33,229.27 L378.02,229.10 L378.71,228.93 L379.41,228.77 L380.10,228.61 L380.79,228.45 L381.48,228.29 L382.18,228.14 L382.87,227.99 L383.56,227.84 L384.25,227.70 L384.94,227.55 L385.64,227.41 L386.33,227.28 L387.02,227.14 L387.71,227.01 L388.41,226.88 L389.10,226.75 L389.79,226.62 L390.48,226.50 L391.17,226.38 L391.87,226.26 L392.56,226.14 L393.25,226.03 L393.94,225.91 L394.64,225.80 L395.33,225.69 L396.02,225.58 L396.71,225.48 L397.41,225.38 L398.10,225.27 L398.79,225.17 L399.48,225.08 L400.17,224.98 L400.87,224.88 L401.56,224.79 L402.25,224.70 L402.94,224.61 L403.64,224.52 L404.33,224.44 L405.02,224.35 L405.71,224.27 L406.40,224.19 L407.10,224.10 L407.79,224.03 L408.48,223.95 L409.17,223.87 L409.87,223.80 L410.56,223.72 L411.25,223.65 L411.94,223.58 L412.63,223.51 L413.33,223.44 L414.02,223.37 L414.71,223.30 L415.40,223.24 L416.10,223.17 L416.79,223.11 L417.48,223.04 L418.17,222.98 L418.86,222.92 L419.56,222.86 L420.25,222.80 L420.94,222.74 L421.63,222.68 L422.33,222.62 L423.02,222.57 L423.71,222.51 L424.40,222.45 L425.09,222.40 L425.79,222.34 L426.48,222.29 L427.17,222.24 L427.86,222.18 L428.56,222.13 L429.25,222.08 L429.94,222.02 L430.63,221.97 L431.32,221.92 L432.02,221.87 L432.71,221.82 L433.40,221.77 L434.09,221.72 L434.79,221.66 L435.48,221.61 L436.17,221.56 L436.86,221.51 L437.56,221.46 L438.25,221.41 L438.94,221.36 L439.63,221.31 L440.32,221.26 L441.02,221.21 L441.71,221.15 L442.40,221.10 L443.09,221.05 L443.79,221.00 L444.48,220.94 L445.17,220.89 L445.86,220.84 L446.55,220.78 L447.25,220.73 L447.94,220.67 L448.63,220.61 L449.32,220.56 L450.02,220.50 L450.71,220.44 L451.40,220.38" stroke="#ee1f3a" stroke-width="1.7"/>
</g>
<rect x="268.45" y="216.5" width="182.95" height="147.70" fill="none" stroke="#2a2a2a" stroke-width="1.1"/>
<line x1="268.45" y1="364.2" x2="268.45" y2="367.0" stroke="#2a2a2a" stroke-width="1"/>
<text x="268.45" y="376.70" font-size="10.4" text-anchor="middle" fill="#1a1a1a" >-2</text>
<line x1="314.19" y1="364.2" x2="314.19" y2="367.0" stroke="#2a2a2a" stroke-width="1"/>
<text x="314.19" y="376.70" font-size="10.4" text-anchor="middle" fill="#1a1a1a" >-1</text>
<line x1="359.92" y1="364.2" x2="359.92" y2="367.0" stroke="#2a2a2a" stroke-width="1"/>
<text x="359.92" y="376.70" font-size="10.4" text-anchor="middle" fill="#1a1a1a" >0</text>
<line x1="405.66" y1="364.2" x2="405.66" y2="367.0" stroke="#2a2a2a" stroke-width="1"/>
<text x="405.66" y="376.70" font-size="10.4" text-anchor="middle" fill="#1a1a1a" >1</text>
<line x1="451.40" y1="364.2" x2="451.40" y2="367.0" stroke="#2a2a2a" stroke-width="1"/>
<text x="451.40" y="376.70" font-size="10.4" text-anchor="middle" fill="#1a1a1a" >2</text>
<line x1="291.32" y1="364.2" x2="291.32" y2="365.8" stroke="#2a2a2a" stroke-width="1"/>
<line x1="337.06" y1="364.2" x2="337.06" y2="365.8" stroke="#2a2a2a" stroke-width="1"/>
<line x1="382.79" y1="364.2" x2="382.79" y2="365.8" stroke="#2a2a2a" stroke-width="1"/>
<line x1="428.53" y1="364.2" x2="428.53" y2="365.8" stroke="#2a2a2a" stroke-width="1"/>
<line x1="268.45" y1="364.20" x2="265.65" y2="364.20" stroke="#2a2a2a" stroke-width="1"/>
<text x="262.60" y="367.70" font-size="9.8" text-anchor="end" fill="#1a1a1a" >10<tspan font-size="6.0" dy="-3.7">-15</tspan><tspan dy="3.7">​</tspan></text>
<line x1="268.45" y1="334.66" x2="265.65" y2="334.66" stroke="#2a2a2a" stroke-width="1"/>
<text x="262.60" y="338.16" font-size="9.8" text-anchor="end" fill="#1a1a1a" >10<tspan font-size="6.0" dy="-3.7">-13</tspan><tspan dy="3.7">​</tspan></text>
<line x1="268.45" y1="305.12" x2="265.65" y2="305.12" stroke="#2a2a2a" stroke-width="1"/>
<text x="262.60" y="308.62" font-size="9.8" text-anchor="end" fill="#1a1a1a" >10<tspan font-size="6.0" dy="-3.7">-11</tspan><tspan dy="3.7">​</tspan></text>
<line x1="268.45" y1="275.58" x2="265.65" y2="275.58" stroke="#2a2a2a" stroke-width="1"/>
<text x="262.60" y="279.08" font-size="9.8" text-anchor="end" fill="#1a1a1a" >10<tspan font-size="6.0" dy="-3.7">-9</tspan><tspan dy="3.7">​</tspan></text>
<line x1="268.45" y1="246.04" x2="265.65" y2="246.04" stroke="#2a2a2a" stroke-width="1"/>
<text x="262.60" y="249.54" font-size="9.8" text-anchor="end" fill="#1a1a1a" >10<tspan font-size="6.0" dy="-3.7">-7</tspan><tspan dy="3.7">​</tspan></text>
<line x1="268.45" y1="216.50" x2="265.65" y2="216.50" stroke="#2a2a2a" stroke-width="1"/>
<text x="262.60" y="220.00" font-size="9.8" text-anchor="end" fill="#1a1a1a" >10<tspan font-size="6.0" dy="-3.7">-5</tspan><tspan dy="3.7">​</tspan></text>
<line x1="268.45" y1="359.75" x2="267.15" y2="359.75" stroke="#2a2a2a" stroke-width="0.6"/>
<line x1="268.45" y1="357.15" x2="267.15" y2="357.15" stroke="#2a2a2a" stroke-width="0.6"/>
<line x1="268.45" y1="355.31" x2="267.15" y2="355.31" stroke="#2a2a2a" stroke-width="0.6"/>
<line x1="268.45" y1="353.88" x2="267.15" y2="353.88" stroke="#2a2a2a" stroke-width="0.6"/>
<line x1="268.45" y1="352.71" x2="267.15" y2="352.71" stroke="#2a2a2a" stroke-width="0.6"/>
<line x1="268.45" y1="351.72" x2="267.15" y2="351.72" stroke="#2a2a2a" stroke-width="0.6"/>
<line x1="268.45" y1="350.86" x2="267.15" y2="350.86" stroke="#2a2a2a" stroke-width="0.6"/>
<line x1="268.45" y1="350.11" x2="267.15" y2="350.11" stroke="#2a2a2a" stroke-width="0.6"/>
<line x1="268.45" y1="349.43" x2="266.65" y2="349.43" stroke="#2a2a2a" stroke-width="1"/>
<line x1="268.45" y1="344.98" x2="267.15" y2="344.98" stroke="#2a2a2a" stroke-width="0.6"/>
<line x1="268.45" y1="342.38" x2="267.15" y2="342.38" stroke="#2a2a2a" stroke-width="0.6"/>
<line x1="268.45" y1="340.54" x2="267.15" y2="340.54" stroke="#2a2a2a" stroke-width="0.6"/>
<line x1="268.45" y1="339.11" x2="267.15" y2="339.11" stroke="#2a2a2a" stroke-width="0.6"/>
<line x1="268.45" y1="337.94" x2="267.15" y2="337.94" stroke="#2a2a2a" stroke-width="0.6"/>
<line x1="268.45" y1="336.95" x2="267.15" y2="336.95" stroke="#2a2a2a" stroke-width="0.6"/>
<line x1="268.45" y1="336.09" x2="267.15" y2="336.09" stroke="#2a2a2a" stroke-width="0.6"/>
<line x1="268.45" y1="335.34" x2="267.15" y2="335.34" stroke="#2a2a2a" stroke-width="0.6"/>
<line x1="268.45" y1="334.66" x2="266.65" y2="334.66" stroke="#2a2a2a" stroke-width="1"/>
<line x1="268.45" y1="330.21" x2="267.15" y2="330.21" stroke="#2a2a2a" stroke-width="0.6"/>
<line x1="268.45" y1="327.61" x2="267.15" y2="327.61" stroke="#2a2a2a" stroke-width="0.6"/>
<line x1="268.45" y1="325.77" x2="267.15" y2="325.77" stroke="#2a2a2a" stroke-width="0.6"/>
<line x1="268.45" y1="324.34" x2="267.15" y2="324.34" stroke="#2a2a2a" stroke-width="0.6"/>
<line x1="268.45" y1="323.17" x2="267.15" y2="323.17" stroke="#2a2a2a" stroke-width="0.6"/>
<line x1="268.45" y1="322.18" x2="267.15" y2="322.18" stroke="#2a2a2a" stroke-width="0.6"/>
<line x1="268.45" y1="321.32" x2="267.15" y2="321.32" stroke="#2a2a2a" stroke-width="0.6"/>
<line x1="268.45" y1="320.57" x2="267.15" y2="320.57" stroke="#2a2a2a" stroke-width="0.6"/>
<line x1="268.45" y1="319.89" x2="266.65" y2="319.89" stroke="#2a2a2a" stroke-width="1"/>
<line x1="268.45" y1="315.44" x2="267.15" y2="315.44" stroke="#2a2a2a" stroke-width="0.6"/>
<line x1="268.45" y1="312.84" x2="267.15" y2="312.84" stroke="#2a2a2a" stroke-width="0.6"/>
<line x1="268.45" y1="311.00" x2="267.15" y2="311.00" stroke="#2a2a2a" stroke-width="0.6"/>
<line x1="268.45" y1="309.57" x2="267.15" y2="309.57" stroke="#2a2a2a" stroke-width="0.6"/>
<line x1="268.45" y1="308.40" x2="267.15" y2="308.40" stroke="#2a2a2a" stroke-width="0.6"/>
<line x1="268.45" y1="307.41" x2="267.15" y2="307.41" stroke="#2a2a2a" stroke-width="0.6"/>
<line x1="268.45" y1="306.55" x2="267.15" y2="306.55" stroke="#2a2a2a" stroke-width="0.6"/>
<line x1="268.45" y1="305.80" x2="267.15" y2="305.80" stroke="#2a2a2a" stroke-width="0.6"/>
<line x1="268.45" y1="305.12" x2="266.65" y2="305.12" stroke="#2a2a2a" stroke-width="1"/>
<line x1="268.45" y1="300.67" x2="267.15" y2="300.67" stroke="#2a2a2a" stroke-width="0.6"/>
<line x1="268.45" y1="298.07" x2="267.15" y2="298.07" stroke="#2a2a2a" stroke-width="0.6"/>
<line x1="268.45" y1="296.23" x2="267.15" y2="296.23" stroke="#2a2a2a" stroke-width="0.6"/>
<line x1="268.45" y1="294.80" x2="267.15" y2="294.80" stroke="#2a2a2a" stroke-width="0.6"/>
<line x1="268.45" y1="293.63" x2="267.15" y2="293.63" stroke="#2a2a2a" stroke-width="0.6"/>
<line x1="268.45" y1="292.64" x2="267.15" y2="292.64" stroke="#2a2a2a" stroke-width="0.6"/>
<line x1="268.45" y1="291.78" x2="267.15" y2="291.78" stroke="#2a2a2a" stroke-width="0.6"/>
<line x1="268.45" y1="291.03" x2="267.15" y2="291.03" stroke="#2a2a2a" stroke-width="0.6"/>
<line x1="268.45" y1="290.35" x2="266.65" y2="290.35" stroke="#2a2a2a" stroke-width="1"/>
<line x1="268.45" y1="285.90" x2="267.15" y2="285.90" stroke="#2a2a2a" stroke-width="0.6"/>
<line x1="268.45" y1="283.30" x2="267.15" y2="283.30" stroke="#2a2a2a" stroke-width="0.6"/>
<line x1="268.45" y1="281.46" x2="267.15" y2="281.46" stroke="#2a2a2a" stroke-width="0.6"/>
<line x1="268.45" y1="280.03" x2="267.15" y2="280.03" stroke="#2a2a2a" stroke-width="0.6"/>
<line x1="268.45" y1="278.86" x2="267.15" y2="278.86" stroke="#2a2a2a" stroke-width="0.6"/>
<line x1="268.45" y1="277.87" x2="267.15" y2="277.87" stroke="#2a2a2a" stroke-width="0.6"/>
<line x1="268.45" y1="277.01" x2="267.15" y2="277.01" stroke="#2a2a2a" stroke-width="0.6"/>
<line x1="268.45" y1="276.26" x2="267.15" y2="276.26" stroke="#2a2a2a" stroke-width="0.6"/>
<line x1="268.45" y1="275.58" x2="266.65" y2="275.58" stroke="#2a2a2a" stroke-width="1"/>
<line x1="268.45" y1="271.13" x2="267.15" y2="271.13" stroke="#2a2a2a" stroke-width="0.6"/>
<line x1="268.45" y1="268.53" x2="267.15" y2="268.53" stroke="#2a2a2a" stroke-width="0.6"/>
<line x1="268.45" y1="266.69" x2="267.15" y2="266.69" stroke="#2a2a2a" stroke-width="0.6"/>
<line x1="268.45" y1="265.26" x2="267.15" y2="265.26" stroke="#2a2a2a" stroke-width="0.6"/>
<line x1="268.45" y1="264.09" x2="267.15" y2="264.09" stroke="#2a2a2a" stroke-width="0.6"/>
<line x1="268.45" y1="263.10" x2="267.15" y2="263.10" stroke="#2a2a2a" stroke-width="0.6"/>
<line x1="268.45" y1="262.24" x2="267.15" y2="262.24" stroke="#2a2a2a" stroke-width="0.6"/>
<line x1="268.45" y1="261.49" x2="267.15" y2="261.49" stroke="#2a2a2a" stroke-width="0.6"/>
<line x1="268.45" y1="260.81" x2="266.65" y2="260.81" stroke="#2a2a2a" stroke-width="1"/>
<line x1="268.45" y1="256.36" x2="267.15" y2="256.36" stroke="#2a2a2a" stroke-width="0.6"/>
<line x1="268.45" y1="253.76" x2="267.15" y2="253.76" stroke="#2a2a2a" stroke-width="0.6"/>
<line x1="268.45" y1="251.92" x2="267.15" y2="251.92" stroke="#2a2a2a" stroke-width="0.6"/>
<line x1="268.45" y1="250.49" x2="267.15" y2="250.49" stroke="#2a2a2a" stroke-width="0.6"/>
<line x1="268.45" y1="249.32" x2="267.15" y2="249.32" stroke="#2a2a2a" stroke-width="0.6"/>
<line x1="268.45" y1="248.33" x2="267.15" y2="248.33" stroke="#2a2a2a" stroke-width="0.6"/>
<line x1="268.45" y1="247.47" x2="267.15" y2="247.47" stroke="#2a2a2a" stroke-width="0.6"/>
<line x1="268.45" y1="246.72" x2="267.15" y2="246.72" stroke="#2a2a2a" stroke-width="0.6"/>
<line x1="268.45" y1="246.04" x2="266.65" y2="246.04" stroke="#2a2a2a" stroke-width="1"/>
<line x1="268.45" y1="241.59" x2="267.15" y2="241.59" stroke="#2a2a2a" stroke-width="0.6"/>
<line x1="268.45" y1="238.99" x2="267.15" y2="238.99" stroke="#2a2a2a" stroke-width="0.6"/>
<line x1="268.45" y1="237.15" x2="267.15" y2="237.15" stroke="#2a2a2a" stroke-width="0.6"/>
<line x1="268.45" y1="235.72" x2="267.15" y2="235.72" stroke="#2a2a2a" stroke-width="0.6"/>
<line x1="268.45" y1="234.55" x2="267.15" y2="234.55" stroke="#2a2a2a" stroke-width="0.6"/>
<line x1="268.45" y1="233.56" x2="267.15" y2="233.56" stroke="#2a2a2a" stroke-width="0.6"/>
<line x1="268.45" y1="232.70" x2="267.15" y2="232.70" stroke="#2a2a2a" stroke-width="0.6"/>
<line x1="268.45" y1="231.95" x2="267.15" y2="231.95" stroke="#2a2a2a" stroke-width="0.6"/>
<line x1="268.45" y1="231.27" x2="266.65" y2="231.27" stroke="#2a2a2a" stroke-width="1"/>
<line x1="268.45" y1="226.82" x2="267.15" y2="226.82" stroke="#2a2a2a" stroke-width="0.6"/>
<line x1="268.45" y1="224.22" x2="267.15" y2="224.22" stroke="#2a2a2a" stroke-width="0.6"/>
<line x1="268.45" y1="222.38" x2="267.15" y2="222.38" stroke="#2a2a2a" stroke-width="0.6"/>
<line x1="268.45" y1="220.95" x2="267.15" y2="220.95" stroke="#2a2a2a" stroke-width="0.6"/>
<line x1="268.45" y1="219.78" x2="267.15" y2="219.78" stroke="#2a2a2a" stroke-width="0.6"/>
<line x1="268.45" y1="218.79" x2="267.15" y2="218.79" stroke="#2a2a2a" stroke-width="0.6"/>
<line x1="268.45" y1="217.93" x2="267.15" y2="217.93" stroke="#2a2a2a" stroke-width="0.6"/>
<line x1="268.45" y1="217.18" x2="267.15" y2="217.18" stroke="#2a2a2a" stroke-width="0.6"/>
<line x1="268.45" y1="216.50" x2="266.65" y2="216.50" stroke="#2a2a2a" stroke-width="1"/>
<text x="270.50" y="223.70" font-size="8.6" text-anchor="start" fill="#1a1a1a" >Probe 1,4: <tspan font-style="italic">W</tspan><tspan font-size="5.6" dy="2.4">CH</tspan><tspan dy="-2.4">​</tspan>/<tspan font-style="italic">L</tspan><tspan font-size="5.6" dy="2.4">CH</tspan><tspan dy="-2.4">​</tspan> = 6.2 μm/4.5 μm</text>
<text x="271.30" y="233.70" font-size="8.7" text-anchor="start" fill="#1a1a1a" ><tspan font-style="italic">V</tspan><tspan font-size="5.6" dy="2.6">ds</tspan><tspan dy="-2.6">​</tspan> = <tspan fill="#6a9a3a">0.05, </tspan><tspan fill="#ecc030">0.10,</tspan></text>
<text x="271.60" y="244.20" font-size="8.75" text-anchor="start" fill="#1a1a1a" ><tspan fill="#f5b040">0.20, </tspan><tspan fill="#f5823a">0.50, </tspan><tspan fill="#f01f4a">1.00 </tspan>V</text>
<text x="375.30" y="351.70" font-size="10.4" text-anchor="start" fill="#1a1a1a" ><tspan font-style="italic">I</tspan><tspan font-size="5.9" dy="3.0">g</tspan><tspan dy="-3.0">​</tspan></text>
<text x="363.30" y="387.20" font-size="10.3" text-anchor="middle" fill="#1a1a1a" ><tspan font-style="italic">V</tspan><tspan font-size="5.9" dy="3.0">g</tspan><tspan dy="-3.0">​</tspan> (V)</text>
<text transform="translate(240.2,287.8) rotate(-90)" font-size="10.3" text-anchor="middle" fill="#1a1a1a"><tspan font-style="italic">I</tspan><tspan font-size="5.9" dy="3.0">ds</tspan><tspan dy="-3.0">​</tspan> (A/μm)</text>
<line x1="358.2" y1="298.2" x2="432.7" y2="262.8" stroke="#ee1f3a" stroke-width="1.3"/>
<line x1="358.2" y1="300.9" x2="436" y2="262.8" stroke="#2040f0" stroke-width="1.3"/>
<rect x="358.2" y="262.8" width="84.20" height="43.90" fill="none" stroke="#2a2a2a" stroke-width="1"/>
<line x1="376.5" y1="286" x2="397" y2="276" stroke="#ee1f3a" stroke-width="1.1"/><polygon points="400,274.6 393.2,275.5 395.3,279.2" fill="#ee1f3a"/>
<line x1="407" y1="279.6" x2="389" y2="288.2" stroke="#2040f0" stroke-width="1.1"/><polygon points="386,289.6 392.6,288.8 390.6,285.1" fill="#2040f0"/>
<line x1="358.20" y1="306.7" x2="358.20" y2="308.9" stroke="#2a2a2a"/>
<text x="358.20" y="315.90" font-size="8.3" text-anchor="middle" fill="#1a1a1a" >-1.6</text>
<line x1="400.30" y1="306.7" x2="400.30" y2="308.9" stroke="#2a2a2a"/>
<text x="400.30" y="315.90" font-size="8.3" text-anchor="middle" fill="#1a1a1a" >-1.4</text>
<line x1="442.40" y1="306.7" x2="442.40" y2="308.9" stroke="#2a2a2a"/>
<text x="442.40" y="315.90" font-size="8.3" text-anchor="middle" fill="#1a1a1a" >-1.2</text>
<line x1="379.25" y1="306.7" x2="379.25" y2="308.0" stroke="#2a2a2a"/>
<line x1="421.35" y1="306.7" x2="421.35" y2="308.0" stroke="#2a2a2a"/>
<line x1="358.2" y1="306.70" x2="356.0" y2="306.70" stroke="#2a2a2a"/>
<text x="354.70" y="309.60" font-size="8.3" text-anchor="end" fill="#1a1a1a" >10<tspan font-size="5.4" dy="-3.2">-11</tspan><tspan dy="3.2">​</tspan></text>
<line x1="358.2" y1="284.75" x2="356.0" y2="284.75" stroke="#2a2a2a"/>
<text x="354.70" y="287.65" font-size="8.3" text-anchor="end" fill="#1a1a1a" >10<tspan font-size="5.4" dy="-3.2">-10</tspan><tspan dy="3.2">​</tspan></text>
<line x1="358.2" y1="262.80" x2="356.0" y2="262.80" stroke="#2a2a2a"/>
<text x="354.70" y="265.70" font-size="8.3" text-anchor="end" fill="#1a1a1a" >10<tspan font-size="5.4" dy="-3.2">-9</tspan><tspan dy="3.2">​</tspan></text>
<text x="362.00" y="271.60" font-size="8.5" text-anchor="start" fill="#1a1a1a" ><tspan font-style="italic">V</tspan><tspan font-size="5.4" dy="2.4">ds</tspan><tspan dy="-2.4">​</tspan> = 1 V</text>
<text x="371.30" y="302.20" font-size="8.6" text-anchor="start" fill="#1a1a1a" >Hysteresis~15 mV</text>
<text x="402.00" y="322.50" font-size="8.8" text-anchor="middle" fill="#1a1a1a" ><tspan font-style="italic">V</tspan><tspan font-size="5.8" dy="2.2">g</tspan><tspan dy="-2.2">​</tspan> (V)</text>
<text transform="translate(331.6,284.8) rotate(-90)" font-size="8.8" text-anchor="middle" fill="#1a1a1a"><tspan font-style="italic">I</tspan><tspan font-size="5.8" dy="2.2">ds</tspan><tspan dy="-2.2">​</tspan> (A/μm)</text>
<g fill="none" stroke-width="1.05">
<path d="M493.45,363.70 L496.55,363.70 L499.66,363.69 L502.76,363.69 L505.86,363.68 L508.96,363.68 L512.07,363.68 L515.17,363.67 L518.27,363.67 L521.37,363.67 L524.48,363.66 L527.58,363.66 L530.68,363.65 L533.78,363.65 L536.89,363.65 L539.99,363.64 L543.09,363.64 L546.19,363.64 L549.30,363.64 L552.40,363.63 L555.50,363.63 L558.60,363.63 L561.71,363.62 L564.81,363.62 L567.91,363.62 L571.01,363.62 L574.12,363.62 L577.22,363.61 L580.32,363.61 L583.42,363.61 L586.53,363.61 L589.63,363.61 L592.73,363.60 L595.83,363.60 L598.94,363.60 L602.04,363.60 L605.14,363.60 L608.24,363.60 L611.35,363.60 L614.45,363.60 L617.55,363.59 L620.65,363.59 L623.76,363.59 L626.86,363.59 L629.96,363.59 L633.06,363.59 L636.17,363.59 L639.27,363.59 L642.37,363.59 L645.47,363.59 L648.58,363.59 L651.68,363.59 L654.78,363.58 L657.88,363.58 L660.99,363.58 L664.09,363.58 L667.19,363.58 L670.29,363.58 L673.40,363.58 L676.50,363.58" stroke="#4a8c38"/>
<path d="M493.45,363.70 L496.55,363.69 L499.66,363.69 L502.76,363.68 L505.86,363.67 L508.96,363.66 L512.07,363.66 L515.17,363.65 L518.27,363.64 L521.37,363.64 L524.48,363.63 L527.58,363.62 L530.68,363.62 L533.78,363.61 L536.89,363.61 L539.99,363.60 L543.09,363.60 L546.19,363.59 L549.30,363.59 L552.40,363.58 L555.50,363.58 L558.60,363.57 L561.71,363.57 L564.81,363.57 L567.91,363.56 L571.01,363.56 L574.12,363.56 L577.22,363.55 L580.32,363.55 L583.42,363.55 L586.53,363.55 L589.63,363.55 L592.73,363.54 L595.83,363.54 L598.94,363.54 L602.04,363.54 L605.14,363.54 L608.24,363.54 L611.35,363.53 L614.45,363.53 L617.55,363.53 L620.65,363.53 L623.76,363.53 L626.86,363.53 L629.96,363.53 L633.06,363.53 L636.17,363.53 L639.27,363.53 L642.37,363.53 L645.47,363.53 L648.58,363.53 L651.68,363.53 L654.78,363.52 L657.88,363.52 L660.99,363.52 L664.09,363.52 L667.19,363.52 L670.29,363.52 L673.40,363.52 L676.50,363.52" stroke="#6d9c3a"/>
<path d="M493.45,363.70 L496.55,363.68 L499.66,363.67 L502.76,363.65 L505.86,363.63 L508.96,363.62 L512.07,363.60 L515.17,363.58 L518.27,363.57 L521.37,363.55 L524.48,363.54 L527.58,363.52 L530.68,363.51 L533.78,363.50 L536.89,363.48 L539.99,363.47 L543.09,363.46 L546.19,363.45 L549.30,363.43 L552.40,363.42 L555.50,363.41 L558.60,363.40 L561.71,363.39 L564.81,363.38 L567.91,363.38 L571.01,363.37 L574.12,363.36 L577.22,363.35 L580.32,363.35 L583.42,363.34 L586.53,363.33 L589.63,363.33 L592.73,363.32 L595.83,363.32 L598.94,363.31 L602.04,363.31 L605.14,363.30 L608.24,363.30 L611.35,363.30 L614.45,363.29 L617.55,363.29 L620.65,363.29 L623.76,363.28 L626.86,363.28 L629.96,363.28 L633.06,363.28 L636.17,363.27 L639.27,363.27 L642.37,363.27 L645.47,363.27 L648.58,363.27 L651.68,363.27 L654.78,363.26 L657.88,363.26 L660.99,363.26 L664.09,363.26 L667.19,363.26 L670.29,363.26 L673.40,363.26 L676.50,363.26" stroke="#9db23c"/>
<path d="M493.45,363.70 L496.55,363.64 L499.66,363.59 L502.76,363.53 L505.86,363.48 L508.96,363.42 L512.07,363.37 L515.17,363.32 L518.27,363.27 L521.37,363.22 L524.48,363.18 L527.58,363.13 L530.68,363.09 L533.78,363.05 L536.89,363.01 L539.99,362.97 L543.09,362.94 L546.19,362.91 L549.30,362.88 L552.40,362.85 L555.50,362.82 L558.60,362.80 L561.71,362.77 L564.81,362.75 L567.91,362.73 L571.01,362.71 L574.12,362.70 L577.22,362.68 L580.32,362.67 L583.42,362.65 L586.53,362.64 L589.63,362.63 L592.73,362.62 L595.83,362.61 L598.94,362.60 L602.04,362.59 L605.14,362.59 L608.24,362.58 L611.35,362.57 L614.45,362.57 L617.55,362.56 L620.65,362.56 L623.76,362.55 L626.86,362.55 L629.96,362.55 L633.06,362.54 L636.17,362.54 L639.27,362.54 L642.37,362.53 L645.47,362.53 L648.58,362.53 L651.68,362.53 L654.78,362.53 L657.88,362.52 L660.99,362.52 L664.09,362.52 L667.19,362.52 L670.29,362.52 L673.40,362.52 L676.50,362.52" stroke="#cfc23a"/>
<path d="M493.45,363.70 L496.55,363.46 L499.66,363.22 L502.76,362.99 L505.86,362.75 L508.96,362.53 L512.07,362.31 L515.17,362.10 L518.27,361.90 L521.37,361.71 L524.48,361.53 L527.58,361.36 L530.68,361.20 L533.78,361.05 L536.89,360.92 L539.99,360.79 L543.09,360.67 L546.19,360.57 L549.30,360.47 L552.40,360.38 L555.50,360.29 L558.60,360.22 L561.71,360.15 L564.81,360.09 L567.91,360.03 L571.01,359.98 L574.12,359.94 L577.22,359.90 L580.32,359.86 L583.42,359.83 L586.53,359.80 L589.63,359.77 L592.73,359.75 L595.83,359.73 L598.94,359.71 L602.04,359.69 L605.14,359.68 L608.24,359.66 L611.35,359.65 L614.45,359.64 L617.55,359.63 L620.65,359.62 L623.76,359.62 L626.86,359.61 L629.96,359.60 L633.06,359.60 L636.17,359.59 L639.27,359.59 L642.37,359.58 L645.47,359.58 L648.58,359.58 L651.68,359.58 L654.78,359.57 L657.88,359.57 L660.99,359.57 L664.09,359.57 L667.19,359.57 L670.29,359.56 L673.40,359.56 L676.50,359.56" stroke="#eec933"/>
<path d="M493.45,363.70 L496.55,363.23 L499.66,362.75 L502.76,362.28 L505.86,361.81 L508.96,361.35 L512.07,360.88 L515.17,360.43 L518.27,359.98 L521.37,359.54 L524.48,359.11 L527.58,358.68 L530.68,358.26 L533.78,357.86 L536.89,357.46 L539.99,357.08 L543.09,356.70 L546.19,356.34 L549.30,355.98 L552.40,355.64 L555.50,355.31 L558.60,355.00 L561.71,354.69 L564.81,354.39 L567.91,354.11 L571.01,353.84 L574.12,353.58 L577.22,353.33 L580.32,353.09 L583.42,352.87 L586.53,352.65 L589.63,352.44 L592.73,352.24 L595.83,352.06 L598.94,351.88 L602.04,351.71 L605.14,351.55 L608.24,351.39 L611.35,351.25 L614.45,351.11 L617.55,350.98 L620.65,350.86 L623.76,350.74 L626.86,350.63 L629.96,350.53 L633.06,350.43 L636.17,350.33 L639.27,350.25 L642.37,350.16 L645.47,350.08 L648.58,350.01 L651.68,349.94 L654.78,349.88 L657.88,349.81 L660.99,349.76 L664.09,349.70 L667.19,349.65 L670.29,349.60 L673.40,349.55 L676.50,349.51" stroke="#f4b631"/>
<path d="M493.45,363.70 L496.55,362.86 L499.66,362.02 L502.76,361.18 L505.86,360.34 L508.96,359.50 L512.07,358.67 L515.17,357.85 L518.27,357.03 L521.37,356.22 L524.48,355.41 L527.58,354.61 L530.68,353.82 L533.78,353.04 L536.89,352.28 L539.99,351.52 L543.09,350.77 L546.19,350.03 L549.30,349.31 L552.40,348.60 L555.50,347.90 L558.60,347.21 L561.71,346.54 L564.81,345.88 L567.91,345.24 L571.01,344.60 L574.12,343.99 L577.22,343.39 L580.32,342.80 L583.42,342.23 L586.53,341.67 L589.63,341.13 L592.73,340.60 L595.83,340.08 L598.94,339.58 L602.04,339.10 L605.14,338.63 L608.24,338.17 L611.35,337.72 L614.45,337.29 L617.55,336.88 L620.65,336.48 L623.76,336.09 L626.86,335.71 L629.96,335.34 L633.06,334.99 L636.17,334.65 L639.27,334.32 L642.37,334.00 L645.47,333.70 L648.58,333.40 L651.68,333.12 L654.78,332.84 L657.88,332.58 L660.99,332.32 L664.09,332.08 L667.19,331.84 L670.29,331.61 L673.40,331.39 L676.50,331.18" stroke="#f59a34"/>
<path d="M493.45,363.70 L496.55,362.30 L499.66,360.89 L502.76,359.49 L505.86,358.10 L508.96,356.70 L512.07,355.32 L515.17,353.94 L518.27,352.56 L521.37,351.20 L524.48,349.85 L527.58,348.50 L530.68,347.17 L533.78,345.85 L536.89,344.55 L539.99,343.26 L543.09,341.98 L546.19,340.72 L549.30,339.48 L552.40,338.25 L555.50,337.04 L558.60,335.85 L561.71,334.68 L564.81,333.53 L567.91,332.40 L571.01,331.28 L574.12,330.19 L577.22,329.12 L580.32,328.07 L583.42,327.04 L586.53,326.04 L589.63,325.05 L592.73,324.09 L595.83,323.15 L598.94,322.23 L602.04,321.33 L605.14,320.45 L608.24,319.60 L611.35,318.76 L614.45,317.95 L617.55,317.16 L620.65,316.39 L623.76,315.64 L626.86,314.91 L629.96,314.20 L633.06,313.51 L636.17,312.84 L639.27,312.19 L642.37,311.56 L645.47,310.94 L648.58,310.35 L651.68,309.77 L654.78,309.21 L657.88,308.67 L660.99,308.15 L664.09,307.64 L667.19,307.15 L670.29,306.67 L673.40,306.21 L676.50,305.76" stroke="#f57a38"/>
<path d="M493.45,363.70 L496.55,361.73 L499.66,359.76 L502.76,357.80 L505.86,355.83 L508.96,353.88 L512.07,351.92 L515.17,349.98 L518.27,348.04 L521.37,346.12 L524.48,344.20 L527.58,342.29 L530.68,340.40 L533.78,338.52 L536.89,336.65 L539.99,334.80 L543.09,332.96 L546.19,331.15 L549.30,329.35 L552.40,327.56 L555.50,325.80 L558.60,324.06 L561.71,322.34 L564.81,320.64 L567.91,318.96 L571.01,317.30 L574.12,315.67 L577.22,314.06 L580.32,312.48 L583.42,310.91 L586.53,309.38 L589.63,307.87 L592.73,306.38 L595.83,304.92 L598.94,303.49 L602.04,302.08 L605.14,300.70 L608.24,299.34 L611.35,298.01 L614.45,296.70 L617.55,295.43 L620.65,294.17 L623.76,292.95 L626.86,291.75 L629.96,290.57 L633.06,289.42 L636.17,288.30 L639.27,287.20 L642.37,286.13 L645.47,285.08 L648.58,284.06 L651.68,283.06 L654.78,282.08 L657.88,281.13 L660.99,280.21 L664.09,279.30 L667.19,278.42 L670.29,277.56 L673.40,276.72 L676.50,275.91" stroke="#f45a3c"/>
<path d="M493.45,363.70 L496.55,361.25 L499.66,358.81 L502.76,356.36 L505.86,353.92 L508.96,351.48 L512.07,349.05 L515.17,346.62 L518.27,344.20 L521.37,341.78 L524.48,339.38 L527.58,336.98 L530.68,334.59 L533.78,332.22 L536.89,329.85 L539.99,327.50 L543.09,325.16 L546.19,322.84 L549.30,320.53 L552.40,318.23 L555.50,315.95 L558.60,313.69 L561.71,311.45 L564.81,309.22 L567.91,307.01 L571.01,304.83 L574.12,302.66 L577.22,300.51 L580.32,298.39 L583.42,296.28 L586.53,294.20 L589.63,292.14 L592.73,290.10 L595.83,288.09 L598.94,286.10 L602.04,284.13 L605.14,282.19 L608.24,280.28 L611.35,278.38 L614.45,276.52 L617.55,274.67 L620.65,272.86 L623.76,271.07 L626.86,269.30 L629.96,267.56 L633.06,265.85 L636.17,264.16 L639.27,262.50 L642.37,260.86 L645.47,259.25 L648.58,257.67 L651.68,256.11 L654.78,254.58 L657.88,253.07 L660.99,251.59 L664.09,250.14 L667.19,248.71 L670.29,247.30 L673.40,245.93 L676.50,244.57" stroke="#f23c40"/>
<path d="M493.45,363.70 L496.55,360.72 L499.66,357.73 L502.76,354.75 L505.86,351.77 L508.96,348.80 L512.07,345.83 L515.17,342.86 L518.27,339.91 L521.37,336.96 L524.48,334.02 L527.58,331.09 L530.68,328.17 L533.78,325.27 L536.89,322.37 L539.99,319.49 L543.09,316.63 L546.19,313.78 L549.30,310.94 L552.40,308.13 L555.50,305.33 L558.60,302.55 L561.71,299.79 L564.81,297.05 L567.91,294.33 L571.01,291.63 L574.12,288.96 L577.22,286.30 L580.32,283.68 L583.42,281.07 L586.53,278.49 L589.63,275.94 L592.73,273.41 L595.83,270.90 L598.94,268.43 L602.04,265.98 L605.14,263.55 L608.24,261.16 L611.35,258.79 L614.45,256.46 L617.55,254.15 L620.65,251.86 L623.76,249.61 L626.86,247.39 L629.96,245.20 L633.06,243.04 L636.17,240.90 L639.27,238.80 L642.37,236.73 L645.47,234.68 L648.58,232.67 L651.68,230.69 L654.78,228.73 L657.88,226.81 L660.99,224.92 L664.09,223.05 L667.19,221.22 L670.29,219.42 L673.40,217.64 L676.50,215.90" stroke="#ee1f45"/>
</g>
<rect x="493.45" y="216.5" width="183.05" height="147.80" fill="none" stroke="#2a2a2a" stroke-width="1.1"/>
<line x1="493.45" y1="364.3" x2="493.45" y2="367.1" stroke="#2a2a2a" stroke-width="1"/>
<text x="493.45" y="376.80" font-size="10.4" text-anchor="middle" fill="#1a1a1a" >0.0</text>
<line x1="530.06" y1="364.3" x2="530.06" y2="367.1" stroke="#2a2a2a" stroke-width="1"/>
<text x="530.06" y="376.80" font-size="10.4" text-anchor="middle" fill="#1a1a1a" >0.2</text>
<line x1="566.67" y1="364.3" x2="566.67" y2="367.1" stroke="#2a2a2a" stroke-width="1"/>
<text x="566.67" y="376.80" font-size="10.4" text-anchor="middle" fill="#1a1a1a" >0.4</text>
<line x1="603.28" y1="364.3" x2="603.28" y2="367.1" stroke="#2a2a2a" stroke-width="1"/>
<text x="603.28" y="376.80" font-size="10.4" text-anchor="middle" fill="#1a1a1a" >0.6</text>
<line x1="639.89" y1="364.3" x2="639.89" y2="367.1" stroke="#2a2a2a" stroke-width="1"/>
<text x="639.89" y="376.80" font-size="10.4" text-anchor="middle" fill="#1a1a1a" >0.8</text>
<line x1="676.50" y1="364.3" x2="676.50" y2="367.1" stroke="#2a2a2a" stroke-width="1"/>
<text x="676.50" y="376.80" font-size="10.4" text-anchor="middle" fill="#1a1a1a" >1.0</text>
<line x1="511.75" y1="364.3" x2="511.75" y2="365.90000000000003" stroke="#2a2a2a" stroke-width="1"/>
<line x1="548.37" y1="364.3" x2="548.37" y2="365.90000000000003" stroke="#2a2a2a" stroke-width="1"/>
<line x1="584.98" y1="364.3" x2="584.98" y2="365.90000000000003" stroke="#2a2a2a" stroke-width="1"/>
<line x1="621.59" y1="364.3" x2="621.59" y2="365.90000000000003" stroke="#2a2a2a" stroke-width="1"/>
<line x1="658.19" y1="364.3" x2="658.19" y2="365.90000000000003" stroke="#2a2a2a" stroke-width="1"/>
<line x1="493.45" y1="364.30" x2="490.65" y2="364.30" stroke="#2a2a2a" stroke-width="1"/>
<text x="488.25" y="367.30" font-size="10.4" text-anchor="end" fill="#1a1a1a" >0</text>
<line x1="493.45" y1="334.74" x2="490.65" y2="334.74" stroke="#2a2a2a" stroke-width="1"/>
<text x="488.25" y="337.74" font-size="10.4" text-anchor="end" fill="#1a1a1a" >1</text>
<line x1="493.45" y1="305.18" x2="490.65" y2="305.18" stroke="#2a2a2a" stroke-width="1"/>
<text x="488.25" y="308.18" font-size="10.4" text-anchor="end" fill="#1a1a1a" >2</text>
<line x1="493.45" y1="275.62" x2="490.65" y2="275.62" stroke="#2a2a2a" stroke-width="1"/>
<text x="488.25" y="278.62" font-size="10.4" text-anchor="end" fill="#1a1a1a" >3</text>
<line x1="493.45" y1="246.06" x2="490.65" y2="246.06" stroke="#2a2a2a" stroke-width="1"/>
<text x="488.25" y="249.06" font-size="10.4" text-anchor="end" fill="#1a1a1a" >4</text>
<line x1="493.45" y1="216.50" x2="490.65" y2="216.50" stroke="#2a2a2a" stroke-width="1"/>
<text x="488.25" y="219.50" font-size="10.4" text-anchor="end" fill="#1a1a1a" >5</text>
<line x1="493.45" y1="349.52" x2="491.84999999999997" y2="349.52" stroke="#2a2a2a" stroke-width="1"/>
<line x1="493.45" y1="319.96" x2="491.84999999999997" y2="319.96" stroke="#2a2a2a" stroke-width="1"/>
<line x1="493.45" y1="290.40" x2="491.84999999999997" y2="290.40" stroke="#2a2a2a" stroke-width="1"/>
<line x1="493.45" y1="260.84" x2="491.84999999999997" y2="260.84" stroke="#2a2a2a" stroke-width="1"/>
<line x1="493.45" y1="231.28" x2="491.84999999999997" y2="231.28" stroke="#2a2a2a" stroke-width="1"/>
<text x="500.00" y="229.60" font-size="10.3" text-anchor="start" fill="#ee1f45" ><tspan font-style="italic">V</tspan><tspan font-size="5.9" dy="3.0">g</tspan><tspan dy="-3.0">​</tspan> = 2.0 V</text>
<line x1="515.5" y1="234" x2="515.5" y2="249" stroke="#111"/><polygon points="513.6,248 517.4,248 515.5,253.5" fill="#111"/>
<text x="523.50" y="246.50" font-size="10.3" text-anchor="start" fill="#1a1a1a" >step 0.4 V</text>
<text x="500.00" y="264.00" font-size="10.3" text-anchor="start" fill="#2a7a38" ><tspan font-style="italic">V</tspan><tspan font-size="5.9" dy="3.0">g</tspan><tspan dy="-3.0">​</tspan> = -2.0 V</text>
<text x="586.00" y="389.70" font-size="10.3" text-anchor="middle" fill="#1a1a1a" ><tspan font-style="italic">V</tspan><tspan font-size="5.9" dy="3.0">ds</tspan><tspan dy="-3.0">​</tspan> (V)</text>
<text transform="translate(474.8,286) rotate(-90)" font-size="10.3" text-anchor="middle" fill="#1a1a1a"><tspan font-style="italic">I</tspan><tspan font-size="5.9" dy="3.0">ds</tspan><tspan dy="-3.0">​</tspan> (μA/μm)</text>
</svg></body></html>
